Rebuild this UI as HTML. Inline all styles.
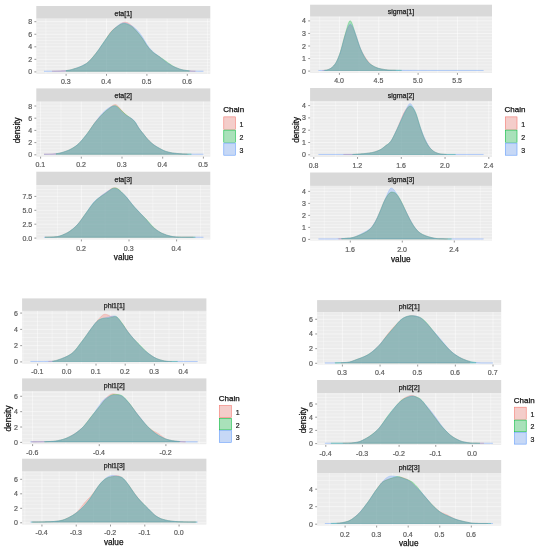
<!DOCTYPE html>
<html lang="en"><head><meta charset="utf-8"><title>Posterior densities by chain</title>
<style>html,body{margin:0;padding:0;background:#fff}body{width:538px;height:550px;overflow:hidden}svg{display:block;filter:blur(0.4px)}</style>
</head><body>
<svg width="538" height="550" viewBox="0 0 538 550" font-family="Liberation Sans, Arial, sans-serif">
<rect width="538" height="550" fill="#ffffff"/>
<rect x="36.3" y="6" width="174" height="12.7" fill="#D9D9D9"/>
<rect x="36.3" y="18.7" width="174" height="55.2" fill="#ECECEC"/>
<path d="M36.3 24.84H210.3M36.3 31.12H210.3M36.3 37.39H210.3M36.3 43.66H210.3M36.3 49.94H210.3M36.3 56.22H210.3M36.3 62.48H210.3M36.3 68.76H210.3" stroke="#fff" stroke-width="0.9" stroke-opacity="0.32" fill="none"/>
<path d="M45.9 18.7V73.9M86.3 18.7V73.9M126.7 18.7V73.9M167.1 18.7V73.9M207.5 18.7V73.9M36.3 65.62H210.3M36.3 53.08H210.3M36.3 40.53H210.3M36.3 27.98H210.3" stroke="#fff" stroke-width="0.36" fill="none"/>
<path d="M66.1 18.7V73.9M106.5 18.7V73.9M146.9 18.7V73.9M187.3 18.7V73.9M36.3 71.9H210.3M36.3 59.35H210.3M36.3 46.8H210.3M36.3 34.25H210.3M36.3 21.7H210.3" stroke="#fff" stroke-width="0.5" fill="none"/>
<path d="M52.02,71.3 L52.02,71.17 53.02,71.15 54.03,71.13 55.03,71.1 56.03,71.07 57.03,71.04 58.04,71.01 59.04,70.98 60.04,70.94 61.04,70.89 62.05,70.84 63.05,70.79 64.05,70.73 65.05,70.66 66.06,70.58 67.06,70.47 68.06,70.33 69.06,70.15 70.07,69.94 71.07,69.7 72.07,69.43 73.07,69.15 74.08,68.85 75.08,68.54 76.08,68.22 77.08,67.89 78.09,67.54 79.09,67.17 80.09,66.78 81.09,66.36 82.1,65.9 83.1,65.42 84.1,64.89 85.1,64.31 86.11,63.68 87.11,62.96 88.11,62.13 89.11,61.2 90.12,60.17 91.12,59.07 92.12,57.91 93.12,56.72 94.13,55.51 95.13,54.29 96.13,53.08 97.13,51.83 98.14,50.54 99.14,49.2 100.14,47.8 101.14,46.37 102.15,44.92 103.15,43.45 104.15,41.97 105.15,40.45 106.16,38.88 107.16,37.29 108.16,35.71 109.16,34.19 110.17,32.76 111.17,31.48 112.17,30.35 113.17,29.4 114.18,28.58 115.18,27.85 116.18,27.13 117.18,26.41 118.19,25.67 119.19,24.93 120.19,24.2 121.19,23.52 122.2,22.93 123.2,22.47 124.2,22.19 125.2,22.11 126.21,22.25 127.21,22.6 128.21,23.11 129.21,23.76 130.22,24.52 131.22,25.36 132.22,26.31 133.22,27.37 134.23,28.51 135.23,29.69 136.23,30.87 137.23,32.04 138.24,33.22 139.24,34.43 140.24,35.69 141.24,37 142.25,38.37 143.25,39.84 144.25,41.39 145.25,42.98 146.26,44.54 147.26,46 148.26,47.34 149.26,48.56 150.27,49.67 151.27,50.69 152.27,51.63 153.27,52.49 154.28,53.26 155.28,53.97 156.28,54.64 157.28,55.31 158.29,56 159.29,56.73 160.29,57.51 161.29,58.33 162.3,59.16 163.3,59.97 164.3,60.76 165.3,61.53 166.31,62.26 167.31,62.97 168.31,63.64 169.31,64.27 170.32,64.86 171.32,65.42 172.32,65.95 173.32,66.45 174.33,66.93 175.33,67.37 176.33,67.78 177.33,68.17 178.34,68.55 179.34,68.91 180.34,69.24 181.34,69.54 182.35,69.8 183.35,70.02 184.35,70.2 185.35,70.34 186.36,70.47 187.36,70.58 188.36,70.68 189.36,70.78 190.37,70.86 191.37,70.93 192.37,71 193.37,71.05 194.38,71.09 195.38,71.13 L195.38,71.3 Z" fill="#F8766D" fill-opacity="0.3" stroke="#F8766D" stroke-width="0.5" stroke-opacity="0.5" stroke-linejoin="round"/>
<path d="M66.06,71.3 L66.06,70.58 67.06,70.47 68.06,70.33 69.06,70.15 70.07,69.94 71.07,69.7 72.07,69.44 73.07,69.15 74.08,68.86 75.08,68.55 76.08,68.23 77.08,67.91 78.09,67.56 79.09,67.19 80.09,66.79 81.09,66.36 82.1,65.89 83.1,65.39 84.1,64.86 85.1,64.28 86.11,63.65 87.11,62.93 88.11,62.13 89.11,61.22 90.12,60.22 91.12,59.15 92.12,58.02 93.12,56.84 94.13,55.62 95.13,54.39 96.13,53.12 97.13,51.81 98.14,50.44 99.14,49.01 100.14,47.54 101.14,46.05 102.15,44.57 103.15,43.11 104.15,41.66 105.15,40.23 106.16,38.78 107.16,37.32 108.16,35.87 109.16,34.47 110.17,33.13 111.17,31.89 112.17,30.77 113.17,29.77 114.18,28.88 115.18,28.07 116.18,27.3 117.18,26.55 118.19,25.84 119.19,25.19 120.19,24.61 121.19,24.14 122.2,23.78 123.2,23.55 124.2,23.48 125.2,23.55 126.21,23.77 127.21,24.1 128.21,24.53 129.21,25.01 130.22,25.55 131.22,26.15 132.22,26.85 133.22,27.67 134.23,28.62 135.23,29.65 136.23,30.73 137.23,31.84 138.24,33.01 139.24,34.23 140.24,35.51 141.24,36.85 142.25,38.25 143.25,39.73 144.25,41.28 145.25,42.85 146.26,44.4 147.26,45.84 148.26,47.17 149.26,48.38 150.27,49.5 151.27,50.55 152.27,51.52 153.27,52.41 154.28,53.21 155.28,53.94 156.28,54.62 157.28,55.26 158.29,55.9 159.29,56.55 160.29,57.22 161.29,57.92 162.3,58.62 163.3,59.32 164.3,60.01 165.3,60.72 166.31,61.44 167.31,62.17 168.31,62.9 169.31,63.62 170.32,64.32 171.32,64.99 172.32,65.63 173.32,66.22 174.33,66.77 175.33,67.27 176.33,67.72 177.33,68.13 178.34,68.52 179.34,68.89 180.34,69.22 181.34,69.52 182.35,69.78 183.35,70 184.35,70.17 185.35,70.32 186.36,70.45 187.36,70.57 188.36,70.68 189.36,70.77 L189.36,71.3 Z" fill="#00BA38" fill-opacity="0.3" stroke="#00BA38" stroke-width="0.5" stroke-opacity="0.5" stroke-linejoin="round"/>
<path d="M44,71.3 L44,71.25 45,71.25 46.01,71.25 47.01,71.25 48.01,71.25 49.01,71.24 50.02,71.22 51.02,71.2 52.02,71.17 53.02,71.15 54.03,71.12 55.03,71.1 56.03,71.07 57.03,71.04 58.04,71.01 59.04,70.98 60.04,70.94 61.04,70.9 62.05,70.85 63.05,70.8 64.05,70.74 65.05,70.67 66.06,70.59 67.06,70.48 68.06,70.34 69.06,70.16 70.07,69.95 71.07,69.71 72.07,69.44 73.07,69.15 74.08,68.84 75.08,68.52 76.08,68.2 77.08,67.85 78.09,67.49 79.09,67.11 80.09,66.7 81.09,66.27 82.1,65.81 83.1,65.32 84.1,64.81 85.1,64.25 86.11,63.65 87.11,62.96 88.11,62.19 89.11,61.31 90.12,60.34 91.12,59.29 92.12,58.16 93.12,56.98 94.13,55.75 95.13,54.49 96.13,53.2 97.13,51.85 98.14,50.45 99.14,48.99 100.14,47.51 101.14,46.02 102.15,44.55 103.15,43.13 104.15,41.74 105.15,40.36 106.16,38.98 107.16,37.58 108.16,36.18 109.16,34.81 110.17,33.47 111.17,32.2 112.17,31.01 113.17,29.93 114.18,28.93 115.18,27.99 116.18,27.08 117.18,26.21 118.19,25.39 119.19,24.64 120.19,24 121.19,23.48 122.2,23.11 123.2,22.9 124.2,22.86 125.2,22.97 126.21,23.23 127.21,23.59 128.21,24.02 129.21,24.48 130.22,24.97 131.22,25.48 132.22,26.07 133.22,26.76 134.23,27.55 135.23,28.42 136.23,29.34 137.23,30.32 138.24,31.39 139.24,32.55 140.24,33.81 141.24,35.18 142.25,36.65 143.25,38.23 144.25,39.9 145.25,41.62 146.26,43.31 147.26,44.89 148.26,46.34 149.26,47.66 150.27,48.87 151.27,49.98 152.27,51 153.27,51.94 154.28,52.8 155.28,53.59 156.28,54.33 157.28,55.06 158.29,55.82 159.29,56.6 160.29,57.43 161.29,58.28 162.3,59.12 163.3,59.95 164.3,60.76 165.3,61.53 166.31,62.27 167.31,62.98 168.31,63.66 169.31,64.3 170.32,64.9 171.32,65.46 172.32,65.99 173.32,66.5 174.33,66.97 175.33,67.4 176.33,67.81 177.33,68.19 178.34,68.56 179.34,68.92 180.34,69.24 181.34,69.54 182.35,69.8 183.35,70.01 184.35,70.19 185.35,70.34 186.36,70.47 187.36,70.58 188.36,70.68 189.36,70.78 190.37,70.86 191.37,70.93 192.37,71 193.37,71.05 194.38,71.09 195.38,71.13 196.38,71.16 197.38,71.2 198.39,71.22 199.39,71.25 200.39,71.25 201.39,71.25 202.4,71.25 203.4,71.25 L203.4,71.3 Z" fill="#619CFF" fill-opacity="0.3" stroke="#619CFF" stroke-width="0.5" stroke-opacity="0.5" stroke-linejoin="round"/>
<text x="123.3" y="15.55" font-size="7" fill="#222" stroke="#222" stroke-width="0.25" text-anchor="middle">eta[1]</text>
<path d="M34.4 71.9H36.3M34.4 59.35H36.3M34.4 46.8H36.3M34.4 34.25H36.3M34.4 21.7H36.3M66.1 73.9V75.8M106.5 73.9V75.8M146.9 73.9V75.8M187.3 73.9V75.8" stroke="#444" stroke-width="0.55" fill="none"/>
<text x="32.2" y="74.4" font-size="7" fill="#5c5c5c" stroke="#5c5c5c" stroke-width="0.2" text-anchor="end">0</text><text x="32.2" y="61.85" font-size="7" fill="#5c5c5c" stroke="#5c5c5c" stroke-width="0.2" text-anchor="end">2</text><text x="32.2" y="49.3" font-size="7" fill="#5c5c5c" stroke="#5c5c5c" stroke-width="0.2" text-anchor="end">4</text><text x="32.2" y="36.75" font-size="7" fill="#5c5c5c" stroke="#5c5c5c" stroke-width="0.2" text-anchor="end">6</text><text x="32.2" y="24.2" font-size="7" fill="#5c5c5c" stroke="#5c5c5c" stroke-width="0.2" text-anchor="end">8</text><text x="65.8" y="84" font-size="7" fill="#5c5c5c" stroke="#5c5c5c" stroke-width="0.2" text-anchor="middle">0.3</text><text x="106.2" y="84" font-size="7" fill="#5c5c5c" stroke="#5c5c5c" stroke-width="0.2" text-anchor="middle">0.4</text><text x="146.6" y="84" font-size="7" fill="#5c5c5c" stroke="#5c5c5c" stroke-width="0.2" text-anchor="middle">0.5</text><text x="187" y="84" font-size="7" fill="#5c5c5c" stroke="#5c5c5c" stroke-width="0.2" text-anchor="middle">0.6</text>
<rect x="36.3" y="88.4" width="174" height="13.3" fill="#D9D9D9"/>
<rect x="36.3" y="101.7" width="174" height="55" fill="#ECECEC"/>
<path d="M36.3 102.95H210.3M36.3 109.05H210.3M36.3 115.15H210.3M36.3 121.25H210.3M36.3 127.35H210.3M36.3 133.45H210.3M36.3 139.55H210.3M36.3 145.65H210.3M36.3 151.75H210.3" stroke="#fff" stroke-width="0.9" stroke-opacity="0.32" fill="none"/>
<path d="M60.95 101.7V156.7M101.65 101.7V156.7M142.35 101.7V156.7M183.05 101.7V156.7M36.3 148.7H210.3M36.3 136.5H210.3M36.3 124.3H210.3M36.3 112.1H210.3" stroke="#fff" stroke-width="0.36" fill="none"/>
<path d="M40.6 101.7V156.7M81.3 101.7V156.7M122 101.7V156.7M162.7 101.7V156.7M203.4 101.7V156.7M36.3 154.8H210.3M36.3 142.6H210.3M36.3 130.4H210.3M36.3 118.2H210.3M36.3 106H210.3" stroke="#fff" stroke-width="0.5" fill="none"/>
<path d="M44,154.3 L44,154.25 45,154.25 46.01,154.25 47.01,154.25 48.01,154.22 49.01,154.17 50.02,154.13 51.02,154.07 52.02,154.01 53.02,153.94 54.03,153.87 55.03,153.78 56.03,153.69 57.03,153.57 58.04,153.42 59.04,153.24 60.04,153.01 61.04,152.76 62.05,152.48 63.05,152.18 64.05,151.86 65.05,151.53 66.06,151.18 67.06,150.81 68.06,150.41 69.06,149.97 70.07,149.49 71.07,148.98 72.07,148.43 73.07,147.85 74.08,147.24 75.08,146.58 76.08,145.88 77.08,145.12 78.09,144.27 79.09,143.34 80.09,142.32 81.09,141.24 82.1,140.1 83.1,138.92 84.1,137.7 85.1,136.46 86.11,135.19 87.11,133.87 88.11,132.49 89.11,131.04 90.12,129.54 91.12,128.03 92.12,126.52 93.12,125.04 94.13,123.62 95.13,122.28 96.13,121.01 97.13,119.82 98.14,118.66 99.14,117.54 100.14,116.44 101.14,115.39 102.15,114.38 103.15,113.42 104.15,112.5 105.15,111.63 106.16,110.79 107.16,109.95 108.16,109.08 109.16,108.2 110.17,107.31 111.17,106.47 112.17,105.72 113.17,105.1 114.18,104.68 115.18,104.54 116.18,104.77 117.18,105.4 118.19,106.33 119.19,107.44 120.19,108.59 121.19,109.73 122.2,110.85 123.2,111.96 124.2,113.04 125.2,114.05 126.21,114.96 127.21,115.77 128.21,116.5 129.21,117.18 130.22,117.87 131.22,118.59 132.22,119.37 133.22,120.23 134.23,121.24 135.23,122.49 136.23,124.03 137.23,125.72 138.24,127.35 139.24,128.81 140.24,130.12 141.24,131.35 142.25,132.56 143.25,133.77 144.25,135.01 145.25,136.24 146.26,137.46 147.26,138.63 148.26,139.73 149.26,140.76 150.27,141.74 151.27,142.67 152.27,143.55 153.27,144.36 154.28,145.12 155.28,145.82 156.28,146.47 157.28,147.08 158.29,147.67 159.29,148.24 160.29,148.8 161.29,149.35 162.3,149.89 163.3,150.38 164.3,150.83 165.3,151.21 166.31,151.54 167.31,151.82 168.31,152.08 169.31,152.31 170.32,152.52 171.32,152.71 172.32,152.88 173.32,153.04 174.33,153.18 175.33,153.31 176.33,153.42 177.33,153.52 178.34,153.62 179.34,153.7 180.34,153.78 181.34,153.85 182.35,153.91 183.35,153.96 184.35,154 185.35,154.03 186.36,154.06 187.36,154.08 L187.36,154.3 Z" fill="#F8766D" fill-opacity="0.3" stroke="#F8766D" stroke-width="0.5" stroke-opacity="0.5" stroke-linejoin="round"/>
<path d="M56.03,154.3 L56.03,153.69 57.03,153.58 58.04,153.43 59.04,153.25 60.04,153.03 61.04,152.78 62.05,152.51 63.05,152.21 64.05,151.9 65.05,151.57 66.06,151.22 67.06,150.85 68.06,150.45 69.06,150 70.07,149.52 71.07,149 72.07,148.44 73.07,147.84 74.08,147.21 75.08,146.55 76.08,145.83 77.08,145.05 78.09,144.19 79.09,143.24 80.09,142.21 81.09,141.11 82.1,139.95 83.1,138.75 84.1,137.52 85.1,136.26 86.11,134.99 87.11,133.68 88.11,132.31 89.11,130.9 90.12,129.45 91.12,127.99 92.12,126.56 93.12,125.15 94.13,123.81 95.13,122.53 96.13,121.33 97.13,120.16 98.14,119.02 99.14,117.89 100.14,116.77 101.14,115.66 102.15,114.59 103.15,113.56 104.15,112.59 105.15,111.68 106.16,110.83 107.16,110.02 108.16,109.23 109.16,108.45 110.17,107.71 111.17,107.04 112.17,106.46 113.17,106.01 114.18,105.73 115.18,105.68 116.18,105.94 117.18,106.53 118.19,107.37 119.19,108.35 120.19,109.34 121.19,110.29 122.2,111.24 123.2,112.18 124.2,113.12 125.2,114.01 126.21,114.84 127.21,115.59 128.21,116.28 129.21,116.95 130.22,117.63 131.22,118.36 132.22,119.14 133.22,120.02 134.23,121.04 135.23,122.3 136.23,123.86 137.23,125.57 138.24,127.22 139.24,128.7 140.24,130.04 141.24,131.3 142.25,132.55 143.25,133.81 144.25,135.08 145.25,136.36 146.26,137.61 147.26,138.8 148.26,139.91 149.26,140.95 150.27,141.93 151.27,142.84 152.27,143.69 153.27,144.48 154.28,145.21 155.28,145.88 156.28,146.5 157.28,147.09 158.29,147.65 159.29,148.2 160.29,148.76 161.29,149.3 162.3,149.84 163.3,150.34 164.3,150.79 165.3,151.18 166.31,151.51 167.31,151.8 168.31,152.06 169.31,152.3 170.32,152.51 171.32,152.7 172.32,152.88 173.32,153.04 174.33,153.18 175.33,153.31 176.33,153.42 177.33,153.52 178.34,153.62 179.34,153.7 180.34,153.78 181.34,153.85 182.35,153.91 183.35,153.96 184.35,154 185.35,154.03 186.36,154.06 187.36,154.08 188.36,154.11 189.36,154.13 190.37,154.15 191.37,154.17 L191.37,154.3 Z" fill="#00BA38" fill-opacity="0.3" stroke="#00BA38" stroke-width="0.5" stroke-opacity="0.5" stroke-linejoin="round"/>
<path d="M44,154.3 L44,154.25 45,154.25 46.01,154.25 47.01,154.25 48.01,154.22 49.01,154.18 50.02,154.13 51.02,154.07 52.02,154.01 53.02,153.94 54.03,153.86 55.03,153.78 56.03,153.68 57.03,153.57 58.04,153.41 59.04,153.23 60.04,153 61.04,152.75 62.05,152.47 63.05,152.17 64.05,151.86 65.05,151.53 66.06,151.19 67.06,150.83 68.06,150.44 69.06,150 70.07,149.53 71.07,149.02 72.07,148.47 73.07,147.88 74.08,147.26 75.08,146.59 76.08,145.86 77.08,145.07 78.09,144.2 79.09,143.24 80.09,142.2 81.09,141.09 82.1,139.94 83.1,138.76 84.1,137.56 85.1,136.34 86.11,135.11 87.11,133.85 88.11,132.53 89.11,131.14 90.12,129.71 91.12,128.24 92.12,126.76 93.12,125.28 94.13,123.82 95.13,122.41 96.13,121.04 97.13,119.71 98.14,118.4 99.14,117.11 100.14,115.85 101.14,114.65 102.15,113.5 103.15,112.43 104.15,111.45 105.15,110.57 106.16,109.77 107.16,109.03 108.16,108.34 109.16,107.69 110.17,107.1 111.17,106.61 112.17,106.23 113.17,105.99 114.18,105.93 115.18,106.11 116.18,106.58 117.18,107.37 118.19,108.37 119.19,109.47 120.19,110.54 121.19,111.53 122.2,112.47 123.2,113.37 124.2,114.21 125.2,114.98 126.21,115.65 127.21,116.22 128.21,116.73 129.21,117.21 130.22,117.71 131.22,118.27 132.22,118.93 133.22,119.7 134.23,120.66 135.23,121.91 136.23,123.48 137.23,125.24 138.24,126.95 139.24,128.5 140.24,129.9 141.24,131.22 142.25,132.52 143.25,133.81 144.25,135.1 145.25,136.37 146.26,137.61 147.26,138.79 148.26,139.88 149.26,140.9 150.27,141.86 151.27,142.76 152.27,143.61 153.27,144.39 154.28,145.12 155.28,145.8 156.28,146.44 157.28,147.04 158.29,147.62 159.29,148.19 160.29,148.76 161.29,149.32 162.3,149.86 163.3,150.37 164.3,150.82 165.3,151.21 166.31,151.54 167.31,151.84 168.31,152.1 169.31,152.33 170.32,152.53 171.32,152.72 172.32,152.9 173.32,153.05 174.33,153.19 175.33,153.32 176.33,153.43 177.33,153.52 178.34,153.62 179.34,153.7 180.34,153.78 181.34,153.85 182.35,153.91 183.35,153.95 184.35,153.99 185.35,154.02 186.36,154.05 187.36,154.08 188.36,154.1 189.36,154.13 190.37,154.15 191.37,154.17 192.37,154.19 193.37,154.21 194.38,154.23 195.38,154.24 196.38,154.25 197.38,154.25 198.39,154.25 199.39,154.25 200.39,154.25 201.39,154.25 202.4,154.25 203.4,154.25 L203.4,154.3 Z" fill="#619CFF" fill-opacity="0.3" stroke="#619CFF" stroke-width="0.5" stroke-opacity="0.5" stroke-linejoin="round"/>
<text x="123.3" y="98.25" font-size="7" fill="#222" stroke="#222" stroke-width="0.25" text-anchor="middle">eta[2]</text>
<path d="M34.4 154.8H36.3M34.4 142.6H36.3M34.4 130.4H36.3M34.4 118.2H36.3M34.4 106H36.3M40.6 156.7V158.6M81.3 156.7V158.6M122 156.7V158.6M162.7 156.7V158.6M203.4 156.7V158.6" stroke="#444" stroke-width="0.55" fill="none"/>
<text x="32.2" y="157.3" font-size="7" fill="#5c5c5c" stroke="#5c5c5c" stroke-width="0.2" text-anchor="end">0</text><text x="32.2" y="145.1" font-size="7" fill="#5c5c5c" stroke="#5c5c5c" stroke-width="0.2" text-anchor="end">2</text><text x="32.2" y="132.9" font-size="7" fill="#5c5c5c" stroke="#5c5c5c" stroke-width="0.2" text-anchor="end">4</text><text x="32.2" y="120.7" font-size="7" fill="#5c5c5c" stroke="#5c5c5c" stroke-width="0.2" text-anchor="end">6</text><text x="32.2" y="108.5" font-size="7" fill="#5c5c5c" stroke="#5c5c5c" stroke-width="0.2" text-anchor="end">8</text><text x="40.3" y="167.3" font-size="7" fill="#5c5c5c" stroke="#5c5c5c" stroke-width="0.2" text-anchor="middle">0.1</text><text x="81" y="167.3" font-size="7" fill="#5c5c5c" stroke="#5c5c5c" stroke-width="0.2" text-anchor="middle">0.2</text><text x="121.7" y="167.3" font-size="7" fill="#5c5c5c" stroke="#5c5c5c" stroke-width="0.2" text-anchor="middle">0.3</text><text x="162.4" y="167.3" font-size="7" fill="#5c5c5c" stroke="#5c5c5c" stroke-width="0.2" text-anchor="middle">0.4</text><text x="203.1" y="167.3" font-size="7" fill="#5c5c5c" stroke="#5c5c5c" stroke-width="0.2" text-anchor="middle">0.5</text>
<rect x="36.3" y="171.7" width="174" height="13.4" fill="#D9D9D9"/>
<rect x="36.3" y="185.1" width="174" height="54.4" fill="#ECECEC"/>
<path d="M36.3 185.97H210.3M36.3 192.93H210.3M36.3 199.88H210.3M36.3 206.82H210.3M36.3 213.78H210.3M36.3 220.72H210.3M36.3 227.68H210.3M36.3 234.62H210.3" stroke="#fff" stroke-width="0.9" stroke-opacity="0.32" fill="none"/>
<path d="M57.6 185.1V239.5M105.2 185.1V239.5M152.8 185.1V239.5M200.4 185.1V239.5M36.3 231.15H210.3M36.3 217.25H210.3M36.3 203.35H210.3M36.3 189.45H210.3" stroke="#fff" stroke-width="0.36" fill="none"/>
<path d="M81.4 185.1V239.5M129 185.1V239.5M176.6 185.1V239.5M36.3 238.1H210.3M36.3 224.2H210.3M36.3 210.3H210.3M36.3 196.4H210.3" stroke="#fff" stroke-width="0.5" fill="none"/>
<path d="M45,237.3 L45,237.25 46.01,237.25 47.01,237.25 48.01,237.23 49.01,237.2 50.02,237.16 51.02,237.12 52.02,237.06 53.02,237.01 54.03,236.94 55.03,236.87 56.03,236.78 57.03,236.65 58.04,236.47 59.04,236.23 60.04,235.94 61.04,235.59 62.05,235.21 63.05,234.8 64.05,234.36 65.05,233.9 66.06,233.42 67.06,232.91 68.06,232.35 69.06,231.73 70.07,231.05 71.07,230.32 72.07,229.54 73.07,228.72 74.08,227.85 75.08,226.94 76.08,225.98 77.08,224.95 78.09,223.83 79.09,222.61 80.09,221.32 81.09,219.97 82.1,218.59 83.1,217.19 84.1,215.81 85.1,214.44 86.11,213.1 87.11,211.77 88.11,210.42 89.11,209.06 90.12,207.69 91.12,206.34 92.12,205.02 93.12,203.76 94.13,202.56 95.13,201.45 96.13,200.43 97.13,199.49 98.14,198.6 99.14,197.75 100.14,196.93 101.14,196.13 102.15,195.36 103.15,194.61 104.15,193.88 105.15,193.16 106.16,192.45 107.16,191.72 108.16,190.97 109.16,190.22 110.17,189.5 111.17,188.85 112.17,188.32 113.17,187.95 114.18,187.78 115.18,187.83 116.18,188.11 117.18,188.59 118.19,189.24 119.19,190.03 120.19,190.93 121.19,191.89 122.2,192.88 123.2,193.89 124.2,194.9 125.2,195.95 126.21,197.05 127.21,198.23 128.21,199.46 129.21,200.72 130.22,202 131.22,203.27 132.22,204.52 133.22,205.73 134.23,206.9 135.23,208.02 136.23,209.12 137.23,210.2 138.24,211.26 139.24,212.31 140.24,213.35 141.24,214.39 142.25,215.43 143.25,216.48 144.25,217.55 145.25,218.65 146.26,219.78 147.26,220.95 148.26,222.13 149.26,223.3 150.27,224.44 151.27,225.52 152.27,226.54 153.27,227.47 154.28,228.32 155.28,229.09 156.28,229.82 157.28,230.51 158.29,231.16 159.29,231.78 160.29,232.36 161.29,232.89 162.3,233.37 163.3,233.81 164.3,234.21 165.3,234.58 166.31,234.93 167.31,235.26 168.31,235.57 169.31,235.85 170.32,236.11 171.32,236.33 172.32,236.52 173.32,236.67 174.33,236.79 175.33,236.88 176.33,236.96 177.33,237.03 178.34,237.1 179.34,237.15 180.34,237.2 181.34,237.24 182.35,237.25 183.35,237.25 184.35,237.25 185.35,237.25 186.36,237.25 187.36,237.25 188.36,237.25 189.36,237.25 190.37,237.25 191.37,237.25 192.37,237.25 193.37,237.25 L193.37,237.3 Z" fill="#F8766D" fill-opacity="0.3" stroke="#F8766D" stroke-width="0.5" stroke-opacity="0.5" stroke-linejoin="round"/>
<path d="M45,237.3 L45,237.25 46.01,237.25 47.01,237.25 48.01,237.23 49.01,237.2 50.02,237.16 51.02,237.12 52.02,237.06 53.02,237.01 54.03,236.94 55.03,236.87 56.03,236.78 57.03,236.65 58.04,236.47 59.04,236.23 60.04,235.93 61.04,235.59 62.05,235.2 63.05,234.79 64.05,234.35 65.05,233.89 66.06,233.42 67.06,232.91 68.06,232.35 69.06,231.74 70.07,231.08 71.07,230.36 72.07,229.6 73.07,228.79 74.08,227.94 75.08,227.05 76.08,226.1 77.08,225.07 78.09,223.95 79.09,222.72 80.09,221.41 81.09,220.03 82.1,218.61 83.1,217.17 84.1,215.72 85.1,214.3 86.11,212.9 87.11,211.5 88.11,210.1 89.11,208.69 90.12,207.29 91.12,205.91 92.12,204.59 93.12,203.34 94.13,202.18 95.13,201.13 96.13,200.18 97.13,199.33 98.14,198.53 99.14,197.78 100.14,197.07 101.14,196.37 102.15,195.69 103.15,195.02 104.15,194.36 105.15,193.68 106.16,192.99 107.16,192.27 108.16,191.5 109.16,190.71 110.17,189.94 111.17,189.23 112.17,188.62 113.17,188.17 114.18,187.91 115.18,187.88 116.18,188.09 117.18,188.5 118.19,189.11 119.19,189.87 120.19,190.74 121.19,191.7 122.2,192.7 123.2,193.71 124.2,194.74 125.2,195.8 126.21,196.93 127.21,198.12 128.21,199.36 129.21,200.63 130.22,201.91 131.22,203.18 132.22,204.42 133.22,205.62 134.23,206.77 135.23,207.88 136.23,208.97 137.23,210.03 138.24,211.08 139.24,212.13 140.24,213.16 141.24,214.18 142.25,215.19 143.25,216.2 144.25,217.2 145.25,218.23 146.26,219.27 147.26,220.36 148.26,221.47 149.26,222.6 150.27,223.75 151.27,224.89 152.27,225.99 153.27,227.03 154.28,227.99 155.28,228.87 156.28,229.69 157.28,230.45 158.29,231.14 159.29,231.78 160.29,232.37 161.29,232.9 162.3,233.38 163.3,233.81 164.3,234.2 165.3,234.57 166.31,234.91 167.31,235.24 168.31,235.55 169.31,235.83 170.32,236.09 171.32,236.32 172.32,236.51 173.32,236.66 174.33,236.78 175.33,236.88 176.33,236.96 177.33,237.03 178.34,237.09 179.34,237.15 180.34,237.2 181.34,237.24 182.35,237.25 183.35,237.25 184.35,237.25 185.35,237.25 186.36,237.25 187.36,237.25 188.36,237.25 189.36,237.25 190.37,237.25 191.37,237.25 192.37,237.25 193.37,237.25 194.38,237.25 195.38,237.25 L195.38,237.3 Z" fill="#00BA38" fill-opacity="0.3" stroke="#00BA38" stroke-width="0.5" stroke-opacity="0.5" stroke-linejoin="round"/>
<path d="M44,237.3 L44,237.25 45,237.25 46.01,237.25 47.01,237.25 48.01,237.23 49.01,237.2 50.02,237.16 51.02,237.12 52.02,237.06 53.02,237.01 54.03,236.94 55.03,236.87 56.03,236.78 57.03,236.65 58.04,236.47 59.04,236.23 60.04,235.93 61.04,235.59 62.05,235.21 63.05,234.8 64.05,234.37 65.05,233.91 66.06,233.44 67.06,232.92 68.06,232.36 69.06,231.73 70.07,231.04 71.07,230.3 72.07,229.51 73.07,228.68 74.08,227.8 75.08,226.9 76.08,225.95 77.08,224.94 78.09,223.84 79.09,222.65 80.09,221.39 81.09,220.06 82.1,218.68 83.1,217.27 84.1,215.84 85.1,214.4 86.11,212.96 87.11,211.51 88.11,210.03 89.11,208.54 90.12,207.06 91.12,205.63 92.12,204.26 93.12,202.99 94.13,201.83 95.13,200.78 96.13,199.84 97.13,198.99 98.14,198.18 99.14,197.4 100.14,196.63 101.14,195.87 102.15,195.11 103.15,194.37 104.15,193.65 105.15,192.95 106.16,192.28 107.16,191.62 108.16,190.98 109.16,190.35 110.17,189.79 111.17,189.3 112.17,188.92 113.17,188.68 114.18,188.59 115.18,188.68 116.18,188.93 117.18,189.33 118.19,189.85 119.19,190.48 120.19,191.2 121.19,191.99 122.2,192.82 123.2,193.69 124.2,194.6 125.2,195.58 126.21,196.66 127.21,197.83 128.21,199.08 129.21,200.38 130.22,201.69 131.22,203 132.22,204.27 133.22,205.49 134.23,206.65 135.23,207.77 136.23,208.86 137.23,209.93 138.24,211 139.24,212.07 140.24,213.15 141.24,214.24 142.25,215.35 143.25,216.46 144.25,217.59 145.25,218.75 146.26,219.93 147.26,221.13 148.26,222.32 149.26,223.49 150.27,224.61 151.27,225.68 152.27,226.67 153.27,227.57 154.28,228.39 155.28,229.15 156.28,229.86 157.28,230.54 158.29,231.19 159.29,231.8 160.29,232.38 161.29,232.91 162.3,233.4 163.3,233.83 164.3,234.23 165.3,234.59 166.31,234.93 167.31,235.25 168.31,235.56 169.31,235.84 170.32,236.1 171.32,236.32 172.32,236.51 173.32,236.66 174.33,236.78 175.33,236.87 176.33,236.95 177.33,237.03 178.34,237.09 179.34,237.15 180.34,237.2 181.34,237.24 182.35,237.25 183.35,237.25 184.35,237.25 185.35,237.25 186.36,237.25 187.36,237.25 188.36,237.25 189.36,237.25 190.37,237.25 191.37,237.25 192.37,237.25 193.37,237.25 194.38,237.25 195.38,237.25 196.38,237.25 197.38,237.25 198.39,237.25 199.39,237.25 200.39,237.25 201.39,237.25 202.4,237.25 203.4,237.25 L203.4,237.3 Z" fill="#619CFF" fill-opacity="0.3" stroke="#619CFF" stroke-width="0.5" stroke-opacity="0.5" stroke-linejoin="round"/>
<text x="123.3" y="181.6" font-size="7" fill="#222" stroke="#222" stroke-width="0.25" text-anchor="middle">eta[3]</text>
<path d="M34.4 238.1H36.3M34.4 224.2H36.3M34.4 210.3H36.3M34.4 196.4H36.3M81.4 239.5V241.4M129 239.5V241.4M176.6 239.5V241.4" stroke="#444" stroke-width="0.55" fill="none"/>
<text x="32.2" y="240.6" font-size="7" fill="#5c5c5c" stroke="#5c5c5c" stroke-width="0.2" text-anchor="end">0.0</text><text x="32.2" y="226.7" font-size="7" fill="#5c5c5c" stroke="#5c5c5c" stroke-width="0.2" text-anchor="end">2.5</text><text x="32.2" y="212.8" font-size="7" fill="#5c5c5c" stroke="#5c5c5c" stroke-width="0.2" text-anchor="end">5.0</text><text x="32.2" y="198.9" font-size="7" fill="#5c5c5c" stroke="#5c5c5c" stroke-width="0.2" text-anchor="end">7.5</text><text x="81.1" y="250.6" font-size="7" fill="#5c5c5c" stroke="#5c5c5c" stroke-width="0.2" text-anchor="middle">0.2</text><text x="128.7" y="250.6" font-size="7" fill="#5c5c5c" stroke="#5c5c5c" stroke-width="0.2" text-anchor="middle">0.3</text><text x="176.3" y="250.6" font-size="7" fill="#5c5c5c" stroke="#5c5c5c" stroke-width="0.2" text-anchor="middle">0.4</text>
<text transform="translate(20.1 130.4) rotate(-90)" font-size="8.2" fill="#111" stroke="#111" stroke-width="0.25" text-anchor="middle">density</text>
<text x="123.6" y="260.4" font-size="8.2" fill="#111" stroke="#111" stroke-width="0.25" text-anchor="middle">value</text>
<text x="223.2" y="112.1" font-size="8" fill="#111" stroke="#111" stroke-width="0.25">Chain</text>
<rect x="223.4" y="116.5" width="12.3" height="13.2" fill="#F2F2F2"/>
<rect x="223.8" y="116.9" width="11.5" height="12.4" fill="#F8766D" fill-opacity="0.3" stroke="#F8766D" stroke-width="0.55"/>
<text x="241.5" y="126.5" font-size="7" fill="#1a1a1a" stroke="#1a1a1a" stroke-width="0.2" text-anchor="middle">1</text>
<rect x="223.4" y="129.7" width="12.3" height="13" fill="#F2F2F2"/>
<rect x="223.8" y="130.1" width="11.5" height="12.2" fill="#00BA38" fill-opacity="0.3" stroke="#00BA38" stroke-width="0.55"/>
<text x="241.5" y="139.6" font-size="7" fill="#1a1a1a" stroke="#1a1a1a" stroke-width="0.2" text-anchor="middle">2</text>
<rect x="223.4" y="142.7" width="12.3" height="12.9" fill="#F2F2F2"/>
<rect x="223.8" y="143.1" width="11.5" height="12.1" fill="#619CFF" fill-opacity="0.3" stroke="#619CFF" stroke-width="0.55"/>
<text x="241.5" y="152.55" font-size="7" fill="#1a1a1a" stroke="#1a1a1a" stroke-width="0.2" text-anchor="middle">3</text>
<rect x="310.1" y="4.7" width="181.9" height="12" fill="#D9D9D9"/>
<rect x="310.1" y="16.7" width="181.9" height="56.2" fill="#ECECEC"/>
<path d="M310.1 17.76H492M310.1 24.04H492M310.1 30.31H492M310.1 36.59H492M310.1 42.86H492M310.1 49.14H492M310.1 55.41H492M310.1 61.68H492M310.1 67.96H492" stroke="#fff" stroke-width="0.9" stroke-opacity="0.32" fill="none"/>
<path d="M319.72 16.7V72.9M359.07 16.7V72.9M398.42 16.7V72.9M437.77 16.7V72.9M477.12 16.7V72.9M310.1 64.82H492M310.1 52.27H492M310.1 39.72H492M310.1 27.17H492" stroke="#fff" stroke-width="0.36" fill="none"/>
<path d="M339.4 16.7V72.9M378.75 16.7V72.9M418.1 16.7V72.9M457.45 16.7V72.9M310.1 71.1H492M310.1 58.55H492M310.1 46H492M310.1 33.45H492M310.1 20.9H492" stroke="#fff" stroke-width="0.5" fill="none"/>
<path d="M322.5,70.5 L322.5,70.4 323.5,70.36 324.5,70.29 325.5,70.2 326.5,70.05 327.5,69.81 328.5,69.47 329.5,69.03 330.5,68.49 331.5,67.82 332.5,66.99 333.5,66.01 334.5,64.83 335.5,63.43 336.5,61.71 337.5,59.66 338.5,57.3 339.5,54.65 340.5,51.63 341.5,48.2 342.5,44.44 343.5,40.64 344.5,37.08 345.5,33.86 346.5,30.93 347.5,28.31 348.5,26.22 349.5,24.95 350.5,24.69 351.5,25.47 352.5,27.08 353.5,29.23 354.5,31.67 355.5,34.3 356.5,37.13 357.5,40.15 358.5,43.2 359.5,46.07 360.5,48.61 361.5,50.85 362.5,52.82 363.5,54.59 364.5,56.19 365.5,57.68 366.5,59.12 367.5,60.52 368.5,61.85 369.5,63.02 370.5,64.01 371.5,64.84 372.5,65.54 373.5,66.16 374.5,66.7 375.5,67.18 376.5,67.6 377.5,67.98 378.5,68.3 379.5,68.58 380.5,68.81 381.5,69.02 382.5,69.21 383.5,69.38 384.5,69.54 385.5,69.69 386.5,69.81 387.5,69.91 388.5,70 389.5,70.06 390.5,70.1 391.5,70.12 392.5,70.15 393.5,70.17 394.5,70.19 395.5,70.2 L395.5,70.5 Z" fill="#F8766D" fill-opacity="0.3" stroke="#F8766D" stroke-width="0.5" stroke-opacity="0.5" stroke-linejoin="round"/>
<path d="M324.5,70.5 L324.5,70.29 325.5,70.2 326.5,70.06 327.5,69.82 328.5,69.47 329.5,69.03 330.5,68.49 331.5,67.81 332.5,66.98 333.5,65.99 334.5,64.8 335.5,63.38 336.5,61.64 337.5,59.57 338.5,57.19 339.5,54.52 340.5,51.49 341.5,48.03 342.5,44.24 343.5,40.37 344.5,36.62 345.5,33.02 346.5,29.43 347.5,25.94 348.5,22.96 349.5,21.08 350.5,20.77 351.5,22.08 352.5,24.61 353.5,27.75 354.5,30.99 355.5,34.13 356.5,37.21 357.5,40.31 358.5,43.36 359.5,46.22 360.5,48.8 361.5,51.12 362.5,53.24 363.5,55.18 364.5,56.94 365.5,58.53 366.5,59.97 367.5,61.29 368.5,62.45 369.5,63.44 370.5,64.27 371.5,64.97 372.5,65.6 373.5,66.17 374.5,66.7 375.5,67.18 376.5,67.61 377.5,67.99 378.5,68.31 379.5,68.59 380.5,68.83 381.5,69.03 382.5,69.22 383.5,69.39 384.5,69.55 385.5,69.69 386.5,69.82 387.5,69.92 388.5,70 389.5,70.06 390.5,70.1 391.5,70.12 392.5,70.15 393.5,70.17 394.5,70.19 395.5,70.2 396.5,70.22 397.5,70.24 398.5,70.25 399.5,70.26 400.5,70.28 401.5,70.29 L401.5,70.5 Z" fill="#00BA38" fill-opacity="0.3" stroke="#00BA38" stroke-width="0.5" stroke-opacity="0.5" stroke-linejoin="round"/>
<path d="M318.5,70.5 L318.5,70.45 319.5,70.45 320.5,70.45 321.5,70.44 322.5,70.4 323.5,70.36 324.5,70.29 325.5,70.2 326.5,70.05 327.5,69.81 328.5,69.47 329.5,69.03 330.5,68.48 331.5,67.8 332.5,66.97 333.5,65.98 334.5,64.8 335.5,63.4 336.5,61.69 337.5,59.66 338.5,57.34 339.5,54.75 340.5,51.8 341.5,48.45 342.5,44.79 343.5,41.08 344.5,37.57 345.5,34.34 346.5,31.3 347.5,28.47 348.5,26.1 349.5,24.55 350.5,24.09 351.5,24.79 352.5,26.44 353.5,28.68 354.5,31.21 355.5,33.9 356.5,36.77 357.5,39.82 358.5,42.91 359.5,45.85 360.5,48.51 361.5,50.91 362.5,53.1 363.5,55.1 364.5,56.91 365.5,58.53 366.5,60 367.5,61.32 368.5,62.5 369.5,63.49 370.5,64.32 371.5,65.02 372.5,65.65 373.5,66.22 374.5,66.74 375.5,67.22 376.5,67.64 377.5,68.01 378.5,68.33 379.5,68.61 380.5,68.84 381.5,69.04 382.5,69.22 383.5,69.39 384.5,69.55 385.5,69.69 386.5,69.81 387.5,69.91 388.5,70 389.5,70.05 390.5,70.09 391.5,70.12 392.5,70.14 393.5,70.17 394.5,70.18 395.5,70.2 396.5,70.22 397.5,70.24 398.5,70.25 399.5,70.27 400.5,70.28 401.5,70.29 402.5,70.3 403.5,70.31 404.5,70.32 405.5,70.33 406.5,70.34 407.5,70.35 408.5,70.35 409.5,70.36 410.5,70.37 411.5,70.37 412.5,70.38 413.5,70.38 414.5,70.39 415.5,70.39 416.5,70.4 417.5,70.4 418.5,70.4 419.5,70.4 420.5,70.41 421.5,70.41 422.5,70.41 423.5,70.42 424.5,70.42 425.5,70.42 426.5,70.42 427.5,70.43 428.5,70.43 429.5,70.43 430.5,70.43 431.5,70.44 432.5,70.44 433.5,70.44 434.5,70.44 435.5,70.45 436.5,70.45 437.5,70.45 438.5,70.45 439.5,70.45 440.5,70.45 441.5,70.45 442.5,70.45 443.5,70.45 444.5,70.45 445.5,70.45 446.5,70.45 447.5,70.45 448.5,70.45 449.5,70.45 450.5,70.45 451.5,70.45 452.5,70.45 453.5,70.45 454.5,70.45 455.5,70.45 456.5,70.45 457.5,70.45 458.5,70.45 459.5,70.45 460.5,70.45 461.5,70.45 462.5,70.45 463.5,70.45 464.5,70.45 465.5,70.45 466.5,70.45 467.5,70.45 468.5,70.45 469.5,70.45 470.5,70.45 471.5,70.45 472.5,70.45 473.5,70.45 474.5,70.45 475.5,70.45 476.5,70.45 477.5,70.45 478.5,70.45 479.5,70.45 480.5,70.45 481.5,70.45 482.5,70.45 483.5,70.45 L483.5,70.5 Z" fill="#619CFF" fill-opacity="0.3" stroke="#619CFF" stroke-width="0.5" stroke-opacity="0.5" stroke-linejoin="round"/>
<text x="401.05" y="13.9" font-size="7" fill="#222" stroke="#222" stroke-width="0.25" text-anchor="middle">sigma[1]</text>
<path d="M308.2 71.1H310.1M308.2 58.55H310.1M308.2 46H310.1M308.2 33.45H310.1M308.2 20.9H310.1M339.4 72.9V74.8M378.75 72.9V74.8M418.1 72.9V74.8M457.45 72.9V74.8" stroke="#444" stroke-width="0.55" fill="none"/>
<text x="306" y="73.6" font-size="7" fill="#5c5c5c" stroke="#5c5c5c" stroke-width="0.2" text-anchor="end">0</text><text x="306" y="61.05" font-size="7" fill="#5c5c5c" stroke="#5c5c5c" stroke-width="0.2" text-anchor="end">1</text><text x="306" y="48.5" font-size="7" fill="#5c5c5c" stroke="#5c5c5c" stroke-width="0.2" text-anchor="end">2</text><text x="306" y="35.95" font-size="7" fill="#5c5c5c" stroke="#5c5c5c" stroke-width="0.2" text-anchor="end">3</text><text x="306" y="23.4" font-size="7" fill="#5c5c5c" stroke="#5c5c5c" stroke-width="0.2" text-anchor="end">4</text><text x="339.1" y="83.3" font-size="7" fill="#5c5c5c" stroke="#5c5c5c" stroke-width="0.2" text-anchor="middle">4.0</text><text x="378.45" y="83.3" font-size="7" fill="#5c5c5c" stroke="#5c5c5c" stroke-width="0.2" text-anchor="middle">4.5</text><text x="417.8" y="83.3" font-size="7" fill="#5c5c5c" stroke="#5c5c5c" stroke-width="0.2" text-anchor="middle">5.0</text><text x="457.15" y="83.3" font-size="7" fill="#5c5c5c" stroke="#5c5c5c" stroke-width="0.2" text-anchor="middle">5.5</text>
<rect x="310.1" y="88" width="181.9" height="13.4" fill="#D9D9D9"/>
<rect x="310.1" y="101.4" width="181.9" height="55.6" fill="#ECECEC"/>
<path d="M310.1 102.53H492M310.1 108.67H492M310.1 114.83H492M310.1 120.97H492M310.1 127.12H492M310.1 133.27H492M310.1 139.43H492M310.1 145.57H492M310.1 151.73H492" stroke="#fff" stroke-width="0.9" stroke-opacity="0.32" fill="none"/>
<path d="M335.68 101.4V157M379.43 101.4V157M423.18 101.4V157M466.93 101.4V157M310.1 148.65H492M310.1 136.35H492M310.1 124.05H492M310.1 111.75H492" stroke="#fff" stroke-width="0.36" fill="none"/>
<path d="M313.8 101.4V157M357.55 101.4V157M401.3 101.4V157M445.05 101.4V157M488.8 101.4V157M310.1 154.8H492M310.1 142.5H492M310.1 130.2H492M310.1 117.9H492M310.1 105.6H492" stroke="#fff" stroke-width="0.5" fill="none"/>
<path d="M343.5,154.5 L343.5,154.45 344.5,154.45 345.5,154.45 346.5,154.45 347.5,154.45 348.5,154.45 349.5,154.45 350.5,154.45 351.5,154.45 352.5,154.44 353.5,154.39 354.5,154.33 355.5,154.27 356.5,154.19 357.5,154.11 358.5,154.04 359.5,153.96 360.5,153.88 361.5,153.81 362.5,153.73 363.5,153.65 364.5,153.56 365.5,153.47 366.5,153.37 367.5,153.26 368.5,153.13 369.5,152.99 370.5,152.84 371.5,152.65 372.5,152.44 373.5,152.2 374.5,151.92 375.5,151.62 376.5,151.28 377.5,150.92 378.5,150.52 379.5,150.09 380.5,149.58 381.5,148.99 382.5,148.28 383.5,147.51 384.5,146.71 385.5,145.94 386.5,145.22 387.5,144.52 388.5,143.78 389.5,142.9 390.5,141.77 391.5,140.32 392.5,138.55 393.5,136.57 394.5,134.49 395.5,132.36 396.5,130.15 397.5,127.85 398.5,125.47 399.5,123.04 400.5,120.56 401.5,118.07 402.5,115.68 403.5,113.5 404.5,111.63 405.5,110.05 406.5,108.69 407.5,107.52 408.5,106.64 409.5,106.18 410.5,106.26 411.5,106.87 412.5,107.93 413.5,109.33 414.5,111.02 415.5,113.08 416.5,115.66 417.5,118.71 418.5,122 419.5,125.25 420.5,128.3 421.5,131.16 422.5,133.86 423.5,136.4 424.5,138.71 425.5,140.8 426.5,142.69 427.5,144.41 428.5,145.95 429.5,147.31 430.5,148.48 431.5,149.51 432.5,150.41 433.5,151.19 434.5,151.84 435.5,152.38 436.5,152.83 437.5,153.2 438.5,153.51 439.5,153.74 440.5,153.91 441.5,154.03 442.5,154.12 443.5,154.21 444.5,154.28 445.5,154.35 446.5,154.4 L446.5,154.5 Z" fill="#F8766D" fill-opacity="0.3" stroke="#F8766D" stroke-width="0.5" stroke-opacity="0.5" stroke-linejoin="round"/>
<path d="M352.5,154.5 L352.5,154.44 353.5,154.39 354.5,154.33 355.5,154.27 356.5,154.19 357.5,154.11 358.5,154.03 359.5,153.95 360.5,153.88 361.5,153.8 362.5,153.72 363.5,153.64 364.5,153.56 365.5,153.47 366.5,153.37 367.5,153.26 368.5,153.14 369.5,153 370.5,152.85 371.5,152.67 372.5,152.46 373.5,152.21 374.5,151.94 375.5,151.63 376.5,151.3 377.5,150.93 378.5,150.53 379.5,150.08 380.5,149.57 381.5,148.96 382.5,148.24 383.5,147.44 384.5,146.63 385.5,145.84 386.5,145.1 387.5,144.4 388.5,143.65 389.5,142.78 390.5,141.67 391.5,140.23 392.5,138.5 393.5,136.58 394.5,134.58 395.5,132.55 396.5,130.49 397.5,128.37 398.5,126.23 399.5,124.06 400.5,121.85 401.5,119.6 402.5,117.33 403.5,115.13 404.5,113.1 405.5,111.26 406.5,109.56 407.5,108.05 408.5,106.83 409.5,106.09 410.5,105.93 411.5,106.34 412.5,107.25 413.5,108.54 414.5,110.18 415.5,112.24 416.5,114.86 417.5,118 418.5,121.42 419.5,124.79 420.5,127.97 421.5,130.95 422.5,133.76 423.5,136.38 424.5,138.76 425.5,140.9 426.5,142.82 427.5,144.54 428.5,146.09 429.5,147.43 430.5,148.59 431.5,149.6 432.5,150.48 433.5,151.24 434.5,151.88 435.5,152.4 436.5,152.84 437.5,153.21 438.5,153.51 439.5,153.74 440.5,153.9 441.5,154.02 442.5,154.12 443.5,154.21 444.5,154.28 445.5,154.35 446.5,154.4 447.5,154.44 448.5,154.45 449.5,154.45 450.5,154.45 451.5,154.45 452.5,154.45 453.5,154.45 454.5,154.45 455.5,154.45 L455.5,154.5 Z" fill="#00BA38" fill-opacity="0.3" stroke="#00BA38" stroke-width="0.5" stroke-opacity="0.5" stroke-linejoin="round"/>
<path d="M318.5,154.5 L318.5,154.45 319.5,154.45 320.5,154.45 321.5,154.45 322.5,154.45 323.5,154.45 324.5,154.45 325.5,154.45 326.5,154.45 327.5,154.45 328.5,154.45 329.5,154.45 330.5,154.45 331.5,154.45 332.5,154.45 333.5,154.45 334.5,154.45 335.5,154.45 336.5,154.45 337.5,154.45 338.5,154.45 339.5,154.45 340.5,154.45 341.5,154.45 342.5,154.45 343.5,154.45 344.5,154.45 345.5,154.45 346.5,154.45 347.5,154.45 348.5,154.45 349.5,154.45 350.5,154.45 351.5,154.45 352.5,154.44 353.5,154.39 354.5,154.34 355.5,154.27 356.5,154.19 357.5,154.12 358.5,154.04 359.5,153.96 360.5,153.88 361.5,153.8 362.5,153.72 363.5,153.64 364.5,153.55 365.5,153.46 366.5,153.36 367.5,153.24 368.5,153.12 369.5,152.98 370.5,152.83 371.5,152.65 372.5,152.44 373.5,152.2 374.5,151.93 375.5,151.63 376.5,151.31 377.5,150.95 378.5,150.56 379.5,150.13 380.5,149.63 381.5,149.03 382.5,148.33 383.5,147.55 384.5,146.74 385.5,145.96 386.5,145.22 387.5,144.51 388.5,143.74 389.5,142.85 390.5,141.7 391.5,140.23 392.5,138.44 393.5,136.46 394.5,134.39 395.5,132.29 396.5,130.15 397.5,127.97 398.5,125.77 399.5,123.56 400.5,121.32 401.5,119.06 402.5,116.79 403.5,114.58 404.5,112.49 405.5,110.46 406.5,108.42 407.5,106.43 408.5,104.76 409.5,103.77 410.5,103.73 411.5,104.61 412.5,106.18 413.5,108.12 414.5,110.22 415.5,112.54 416.5,115.25 417.5,118.36 418.5,121.66 419.5,124.88 420.5,127.86 421.5,130.61 422.5,133.18 423.5,135.6 424.5,137.86 425.5,139.97 426.5,141.97 427.5,143.85 428.5,145.57 429.5,147.09 430.5,148.38 431.5,149.48 432.5,150.42 433.5,151.21 434.5,151.86 435.5,152.39 436.5,152.84 437.5,153.21 438.5,153.51 439.5,153.74 440.5,153.91 441.5,154.02 442.5,154.12 443.5,154.21 444.5,154.28 445.5,154.35 446.5,154.4 447.5,154.44 448.5,154.45 449.5,154.45 450.5,154.45 451.5,154.45 452.5,154.45 453.5,154.45 454.5,154.45 455.5,154.45 456.5,154.45 457.5,154.45 458.5,154.45 459.5,154.45 460.5,154.45 461.5,154.45 462.5,154.45 463.5,154.45 464.5,154.45 465.5,154.45 466.5,154.45 467.5,154.45 468.5,154.45 469.5,154.45 470.5,154.45 471.5,154.45 472.5,154.45 473.5,154.45 474.5,154.45 475.5,154.45 476.5,154.45 477.5,154.45 478.5,154.45 479.5,154.45 480.5,154.45 481.5,154.45 482.5,154.45 483.5,154.45 L483.5,154.5 Z" fill="#619CFF" fill-opacity="0.3" stroke="#619CFF" stroke-width="0.5" stroke-opacity="0.5" stroke-linejoin="round"/>
<text x="401.05" y="97.9" font-size="7" fill="#222" stroke="#222" stroke-width="0.25" text-anchor="middle">sigma[2]</text>
<path d="M308.2 154.8H310.1M308.2 142.5H310.1M308.2 130.2H310.1M308.2 117.9H310.1M308.2 105.6H310.1M313.8 157V158.9M357.55 157V158.9M401.3 157V158.9M445.05 157V158.9M488.8 157V158.9" stroke="#444" stroke-width="0.55" fill="none"/>
<text x="306" y="157.3" font-size="7" fill="#5c5c5c" stroke="#5c5c5c" stroke-width="0.2" text-anchor="end">0</text><text x="306" y="145" font-size="7" fill="#5c5c5c" stroke="#5c5c5c" stroke-width="0.2" text-anchor="end">1</text><text x="306" y="132.7" font-size="7" fill="#5c5c5c" stroke="#5c5c5c" stroke-width="0.2" text-anchor="end">2</text><text x="306" y="120.4" font-size="7" fill="#5c5c5c" stroke="#5c5c5c" stroke-width="0.2" text-anchor="end">3</text><text x="306" y="108.1" font-size="7" fill="#5c5c5c" stroke="#5c5c5c" stroke-width="0.2" text-anchor="end">4</text><text x="313.5" y="167.5" font-size="7" fill="#5c5c5c" stroke="#5c5c5c" stroke-width="0.2" text-anchor="middle">0.8</text><text x="357.25" y="167.5" font-size="7" fill="#5c5c5c" stroke="#5c5c5c" stroke-width="0.2" text-anchor="middle">1.2</text><text x="401" y="167.5" font-size="7" fill="#5c5c5c" stroke="#5c5c5c" stroke-width="0.2" text-anchor="middle">1.6</text><text x="444.75" y="167.5" font-size="7" fill="#5c5c5c" stroke="#5c5c5c" stroke-width="0.2" text-anchor="middle">2.0</text><text x="488.5" y="167.5" font-size="7" fill="#5c5c5c" stroke="#5c5c5c" stroke-width="0.2" text-anchor="middle">2.4</text>
<rect x="310.1" y="172.5" width="181.9" height="13.4" fill="#D9D9D9"/>
<rect x="310.1" y="185.9" width="181.9" height="54.7" fill="#ECECEC"/>
<path d="M310.1 188.4H492M310.1 194.4H492M310.1 200.4H492M310.1 206.4H492M310.1 212.4H492M310.1 218.4H492M310.1 224.4H492M310.1 230.4H492M310.1 236.4H492" stroke="#fff" stroke-width="0.9" stroke-opacity="0.32" fill="none"/>
<path d="M324.3 185.9V240.6M376.3 185.9V240.6M428.3 185.9V240.6M480.3 185.9V240.6M310.1 233.4H492M310.1 221.4H492M310.1 209.4H492M310.1 197.4H492" stroke="#fff" stroke-width="0.36" fill="none"/>
<path d="M350.3 185.9V240.6M402.3 185.9V240.6M454.3 185.9V240.6M310.1 239.4H492M310.1 227.4H492M310.1 215.4H492M310.1 203.4H492M310.1 191.4H492" stroke="#fff" stroke-width="0.5" fill="none"/>
<path d="M338.5,239 L338.5,238.8 339.5,238.76 340.5,238.71 341.5,238.65 342.5,238.59 343.5,238.53 344.5,238.46 345.5,238.39 346.5,238.31 347.5,238.23 348.5,238.14 349.5,238.05 350.5,237.93 351.5,237.77 352.5,237.57 353.5,237.31 354.5,237.02 355.5,236.69 356.5,236.33 357.5,235.95 358.5,235.56 359.5,235.15 360.5,234.74 361.5,234.31 362.5,233.86 363.5,233.38 364.5,232.87 365.5,232.31 366.5,231.7 367.5,231.04 368.5,230.31 369.5,229.49 370.5,228.55 371.5,227.44 372.5,226.12 373.5,224.64 374.5,223 375.5,221.22 376.5,219.27 377.5,217.16 378.5,214.92 379.5,212.6 380.5,210.21 381.5,207.73 382.5,205.21 383.5,202.8 384.5,200.62 385.5,198.71 386.5,197.01 387.5,195.46 388.5,194.13 389.5,193.1 390.5,192.46 391.5,192.23 392.5,192.3 393.5,192.58 394.5,193.01 395.5,193.63 396.5,194.53 397.5,195.75 398.5,197.22 399.5,198.84 400.5,200.56 401.5,202.37 402.5,204.3 403.5,206.32 404.5,208.38 405.5,210.44 406.5,212.5 407.5,214.55 408.5,216.57 409.5,218.53 410.5,220.41 411.5,222.21 412.5,223.93 413.5,225.55 414.5,227.03 415.5,228.38 416.5,229.61 417.5,230.73 418.5,231.72 419.5,232.58 420.5,233.3 421.5,233.9 422.5,234.43 423.5,234.91 424.5,235.35 425.5,235.75 426.5,236.12 427.5,236.45 428.5,236.76 429.5,237.04 430.5,237.31 431.5,237.56 432.5,237.8 433.5,238.03 434.5,238.24 435.5,238.41 436.5,238.55 437.5,238.64 438.5,238.71 439.5,238.75 440.5,238.78 441.5,238.81 442.5,238.84 443.5,238.86 444.5,238.89 445.5,238.91 446.5,238.93 447.5,238.94 L447.5,239 Z" fill="#F8766D" fill-opacity="0.3" stroke="#F8766D" stroke-width="0.5" stroke-opacity="0.5" stroke-linejoin="round"/>
<path d="M341.5,239 L341.5,238.65 342.5,238.59 343.5,238.53 344.5,238.46 345.5,238.39 346.5,238.31 347.5,238.23 348.5,238.14 349.5,238.05 350.5,237.93 351.5,237.77 352.5,237.56 353.5,237.31 354.5,237.01 355.5,236.67 356.5,236.3 357.5,235.91 358.5,235.5 359.5,235.09 360.5,234.66 361.5,234.23 362.5,233.78 363.5,233.3 364.5,232.8 365.5,232.26 366.5,231.67 367.5,231.04 368.5,230.35 369.5,229.57 370.5,228.67 371.5,227.59 372.5,226.32 373.5,224.86 374.5,223.25 375.5,221.48 376.5,219.54 377.5,217.42 378.5,215.16 379.5,212.82 380.5,210.4 381.5,207.88 382.5,205.34 383.5,202.9 384.5,200.7 385.5,198.77 386.5,197.05 387.5,195.48 388.5,194.11 389.5,193.04 390.5,192.34 391.5,192.04 392.5,192.03 393.5,192.22 394.5,192.57 395.5,193.11 396.5,193.96 397.5,195.15 398.5,196.63 399.5,198.29 400.5,200.07 401.5,201.98 402.5,204.02 403.5,206.16 404.5,208.33 405.5,210.49 406.5,212.64 407.5,214.75 408.5,216.81 409.5,218.78 410.5,220.65 411.5,222.42 412.5,224.1 413.5,225.67 414.5,227.11 415.5,228.42 416.5,229.61 417.5,230.71 418.5,231.69 419.5,232.54 420.5,233.25 421.5,233.86 422.5,234.4 423.5,234.89 424.5,235.34 425.5,235.75 426.5,236.12 427.5,236.47 428.5,236.78 429.5,237.06 430.5,237.33 431.5,237.58 432.5,237.82 433.5,238.04 434.5,238.24 435.5,238.41 436.5,238.55 437.5,238.64 438.5,238.71 439.5,238.75 440.5,238.78 441.5,238.81 442.5,238.84 443.5,238.86 444.5,238.89 445.5,238.91 446.5,238.93 447.5,238.94 448.5,238.95 449.5,238.95 450.5,238.95 451.5,238.95 L451.5,239 Z" fill="#00BA38" fill-opacity="0.3" stroke="#00BA38" stroke-width="0.5" stroke-opacity="0.5" stroke-linejoin="round"/>
<path d="M318.5,239 L318.5,238.95 319.5,238.95 320.5,238.95 321.5,238.95 322.5,238.95 323.5,238.95 324.5,238.95 325.5,238.95 326.5,238.95 327.5,238.95 328.5,238.95 329.5,238.95 330.5,238.95 331.5,238.95 332.5,238.95 333.5,238.95 334.5,238.94 335.5,238.91 336.5,238.88 337.5,238.85 338.5,238.8 339.5,238.76 340.5,238.71 341.5,238.65 342.5,238.59 343.5,238.53 344.5,238.46 345.5,238.39 346.5,238.31 347.5,238.23 348.5,238.14 349.5,238.05 350.5,237.92 351.5,237.76 352.5,237.54 353.5,237.27 354.5,236.94 355.5,236.56 356.5,236.15 357.5,235.7 358.5,235.23 359.5,234.74 360.5,234.24 361.5,233.74 362.5,233.22 363.5,232.7 364.5,232.17 365.5,231.62 366.5,231.05 367.5,230.45 368.5,229.79 369.5,229.06 370.5,228.2 371.5,227.15 372.5,225.9 373.5,224.46 374.5,222.87 375.5,221.12 376.5,219.21 377.5,217.15 378.5,214.96 379.5,212.71 380.5,210.38 381.5,207.95 382.5,205.44 383.5,202.97 384.5,200.59 385.5,198.29 386.5,195.98 387.5,193.62 388.5,191.37 389.5,189.52 390.5,188.34 391.5,187.99 392.5,188.39 393.5,189.32 394.5,190.54 395.5,191.93 396.5,193.47 397.5,195.17 398.5,196.98 399.5,198.83 400.5,200.69 401.5,202.59 402.5,204.55 403.5,206.57 404.5,208.59 405.5,210.59 406.5,212.59 407.5,214.59 408.5,216.56 409.5,218.48 410.5,220.34 411.5,222.14 412.5,223.86 413.5,225.49 414.5,226.99 415.5,228.36 416.5,229.6 417.5,230.73 418.5,231.73 419.5,232.59 420.5,233.31 421.5,233.91 422.5,234.44 423.5,234.91 424.5,235.35 425.5,235.75 426.5,236.12 427.5,236.45 428.5,236.76 429.5,237.05 430.5,237.32 431.5,237.57 432.5,237.81 433.5,238.04 434.5,238.24 435.5,238.42 436.5,238.55 437.5,238.65 438.5,238.71 439.5,238.75 440.5,238.78 441.5,238.81 442.5,238.84 443.5,238.86 444.5,238.88 445.5,238.91 446.5,238.92 447.5,238.94 448.5,238.95 449.5,238.95 450.5,238.95 451.5,238.95 452.5,238.95 453.5,238.95 454.5,238.95 455.5,238.95 456.5,238.95 457.5,238.95 458.5,238.95 459.5,238.95 460.5,238.95 461.5,238.95 462.5,238.95 463.5,238.95 464.5,238.95 465.5,238.95 466.5,238.95 467.5,238.95 468.5,238.95 469.5,238.95 470.5,238.95 471.5,238.95 472.5,238.95 473.5,238.95 474.5,238.95 475.5,238.95 476.5,238.95 477.5,238.95 478.5,238.95 479.5,238.95 480.5,238.95 481.5,238.95 482.5,238.95 483.5,238.95 L483.5,239 Z" fill="#619CFF" fill-opacity="0.3" stroke="#619CFF" stroke-width="0.5" stroke-opacity="0.5" stroke-linejoin="round"/>
<text x="401.05" y="182.4" font-size="7" fill="#222" stroke="#222" stroke-width="0.25" text-anchor="middle">sigma[3]</text>
<path d="M308.2 239.4H310.1M308.2 227.4H310.1M308.2 215.4H310.1M308.2 203.4H310.1M308.2 191.4H310.1M350.3 240.6V242.5M402.3 240.6V242.5M454.3 240.6V242.5" stroke="#444" stroke-width="0.55" fill="none"/>
<text x="306" y="241.9" font-size="7" fill="#5c5c5c" stroke="#5c5c5c" stroke-width="0.2" text-anchor="end">0</text><text x="306" y="229.9" font-size="7" fill="#5c5c5c" stroke="#5c5c5c" stroke-width="0.2" text-anchor="end">1</text><text x="306" y="217.9" font-size="7" fill="#5c5c5c" stroke="#5c5c5c" stroke-width="0.2" text-anchor="end">2</text><text x="306" y="205.9" font-size="7" fill="#5c5c5c" stroke="#5c5c5c" stroke-width="0.2" text-anchor="end">3</text><text x="306" y="193.9" font-size="7" fill="#5c5c5c" stroke="#5c5c5c" stroke-width="0.2" text-anchor="end">4</text><text x="350" y="252.1" font-size="7" fill="#5c5c5c" stroke="#5c5c5c" stroke-width="0.2" text-anchor="middle">1.6</text><text x="402" y="252.1" font-size="7" fill="#5c5c5c" stroke="#5c5c5c" stroke-width="0.2" text-anchor="middle">2.0</text><text x="454" y="252.1" font-size="7" fill="#5c5c5c" stroke="#5c5c5c" stroke-width="0.2" text-anchor="middle">2.4</text>
<text transform="translate(298.7 129.9) rotate(-90)" font-size="8.2" fill="#111" stroke="#111" stroke-width="0.25" text-anchor="middle">density</text>
<text x="400.8" y="262.3" font-size="8.2" fill="#111" stroke="#111" stroke-width="0.25" text-anchor="middle">value</text>
<text x="504.6" y="111.6" font-size="8" fill="#111" stroke="#111" stroke-width="0.25">Chain</text>
<rect x="504.9" y="116.5" width="12.5" height="13.2" fill="#F2F2F2"/>
<rect x="505.3" y="116.9" width="11.7" height="12.4" fill="#F8766D" fill-opacity="0.3" stroke="#F8766D" stroke-width="0.55"/>
<text x="523.3" y="126.5" font-size="7" fill="#1a1a1a" stroke="#1a1a1a" stroke-width="0.2" text-anchor="middle">1</text>
<rect x="504.9" y="129.7" width="12.5" height="13" fill="#F2F2F2"/>
<rect x="505.3" y="130.1" width="11.7" height="12.2" fill="#00BA38" fill-opacity="0.3" stroke="#00BA38" stroke-width="0.55"/>
<text x="523.3" y="139.6" font-size="7" fill="#1a1a1a" stroke="#1a1a1a" stroke-width="0.2" text-anchor="middle">2</text>
<rect x="504.9" y="142.7" width="12.5" height="12.9" fill="#F2F2F2"/>
<rect x="505.3" y="143.1" width="11.7" height="12.1" fill="#619CFF" fill-opacity="0.3" stroke="#619CFF" stroke-width="0.55"/>
<text x="523.3" y="152.55" font-size="7" fill="#1a1a1a" stroke="#1a1a1a" stroke-width="0.2" text-anchor="middle">3</text>
<rect x="22.1" y="298.4" width="184.3" height="12.5" fill="#D9D9D9"/>
<rect x="22.1" y="310.9" width="184.3" height="52.8" fill="#ECECEC"/>
<path d="M22.1 317.15H206.4M22.1 325.29H206.4M22.1 333.43H206.4M22.1 341.56H206.4M22.1 349.69H206.4M22.1 357.83H206.4" stroke="#fff" stroke-width="0.9" stroke-opacity="0.32" fill="none"/>
<path d="M23 310.9V363.7M52.2 310.9V363.7M81.4 310.9V363.7M110.6 310.9V363.7M139.8 310.9V363.7M169 310.9V363.7M198.2 310.9V363.7M22.1 353.76H206.4M22.1 337.5H206.4M22.1 321.22H206.4" stroke="#fff" stroke-width="0.36" fill="none"/>
<path d="M37.6 310.9V363.7M66.8 310.9V363.7M96 310.9V363.7M125.2 310.9V363.7M154.4 310.9V363.7M183.6 310.9V363.7M22.1 361.9H206.4M22.1 345.63H206.4M22.1 329.36H206.4M22.1 313.09H206.4" stroke="#fff" stroke-width="0.5" fill="none"/>
<path d="M48.51,361.5 L48.51,361.3 49.51,361.27 50.51,361.24 51.51,361.21 52.51,361.14 53.51,361.04 54.51,360.87 55.51,360.66 56.52,360.39 57.52,360.08 58.52,359.75 59.52,359.39 60.52,359.02 61.52,358.65 62.52,358.27 63.52,357.87 64.52,357.46 65.52,357.02 66.52,356.54 67.52,356.03 68.52,355.49 69.52,354.9 70.52,354.28 71.52,353.59 72.53,352.83 73.53,351.96 74.53,350.97 75.53,349.87 76.53,348.67 77.53,347.4 78.53,346.09 79.53,344.76 80.53,343.42 81.53,342.09 82.53,340.77 83.53,339.43 84.53,338.05 85.53,336.63 86.53,335.2 87.53,333.75 88.53,332.3 89.54,330.88 90.54,329.49 91.54,328.13 92.54,326.8 93.54,325.47 94.54,324.14 95.54,322.82 96.54,321.55 97.54,320.36 98.54,319.23 99.54,318.14 100.54,317.08 101.54,316.09 102.54,315.24 103.54,314.62 104.54,314.29 105.54,314.25 106.55,314.45 107.55,314.83 108.55,315.3 109.55,315.77 110.55,316.17 111.55,316.44 112.55,316.59 113.55,316.66 114.55,316.73 115.55,316.93 116.55,317.37 117.55,318.1 118.55,319.09 119.55,320.27 120.55,321.53 121.55,322.81 122.56,324.1 123.56,325.43 124.56,326.83 125.56,328.28 126.56,329.75 127.56,331.18 128.56,332.55 129.56,333.87 130.56,335.14 131.56,336.39 132.56,337.61 133.56,338.81 134.56,339.98 135.56,341.13 136.56,342.25 137.56,343.34 138.56,344.41 139.57,345.46 140.57,346.5 141.57,347.52 142.57,348.52 143.57,349.48 144.57,350.41 145.57,351.29 146.57,352.13 147.57,352.91 148.57,353.66 149.57,354.37 150.57,355.06 151.57,355.73 152.57,356.37 153.57,356.98 154.57,357.55 155.57,358.07 156.58,358.53 157.58,358.93 158.58,359.29 159.58,359.62 160.58,359.92 161.58,360.21 162.58,360.48 163.58,360.73 164.58,360.94 165.58,361.12 166.58,361.25 167.58,361.34 168.58,361.39 169.58,361.42 170.58,361.44 171.58,361.45 L171.58,361.5 Z" fill="#F8766D" fill-opacity="0.3" stroke="#F8766D" stroke-width="0.5" stroke-opacity="0.5" stroke-linejoin="round"/>
<path d="M52.51,361.5 L52.51,361.14 53.51,361.03 54.51,360.87 55.51,360.66 56.52,360.39 57.52,360.09 58.52,359.76 59.52,359.4 60.52,359.04 61.52,358.67 62.52,358.3 63.52,357.91 64.52,357.5 65.52,357.06 66.52,356.59 67.52,356.09 68.52,355.54 69.52,354.96 70.52,354.33 71.52,353.63 72.53,352.86 73.53,351.97 74.53,350.95 75.53,349.82 76.53,348.59 77.53,347.28 78.53,345.93 79.53,344.57 80.53,343.21 81.53,341.88 82.53,340.57 83.53,339.25 84.53,337.91 85.53,336.54 86.53,335.15 87.53,333.75 88.53,332.34 89.54,330.95 90.54,329.57 91.54,328.21 92.54,326.88 93.54,325.55 94.54,324.24 95.54,323 96.54,321.88 97.54,320.94 98.54,320.19 99.54,319.59 100.54,319.11 101.54,318.73 102.54,318.45 103.54,318.28 104.54,318.19 105.54,318.15 106.55,318.13 107.55,318.08 108.55,317.99 109.55,317.84 110.55,317.61 111.55,317.32 112.55,316.99 113.55,316.67 114.55,316.44 115.55,316.43 116.55,316.74 117.55,317.41 118.55,318.42 119.55,319.66 120.55,321.03 121.55,322.43 122.56,323.86 123.56,325.32 124.56,326.84 125.56,328.39 126.56,329.92 127.56,331.39 128.56,332.76 129.56,334.05 130.56,335.27 131.56,336.44 132.56,337.57 133.56,338.66 134.56,339.71 135.56,340.75 136.56,341.76 137.56,342.75 138.56,343.75 139.57,344.76 140.57,345.78 141.57,346.82 142.57,347.85 143.57,348.88 144.57,349.88 145.57,350.85 146.57,351.77 147.57,352.63 148.57,353.44 149.57,354.21 150.57,354.95 151.57,355.66 152.57,356.34 153.57,356.97 154.57,357.55 155.57,358.08 156.58,358.55 157.58,358.95 158.58,359.31 159.58,359.63 160.58,359.94 161.58,360.22 162.58,360.49 163.58,360.73 164.58,360.94 165.58,361.12 166.58,361.25 167.58,361.34 168.58,361.39 169.58,361.42 170.58,361.44 171.58,361.45 172.59,361.45 173.59,361.45 174.59,361.45 175.59,361.45 176.59,361.45 177.59,361.45 L177.59,361.5 Z" fill="#00BA38" fill-opacity="0.3" stroke="#00BA38" stroke-width="0.5" stroke-opacity="0.5" stroke-linejoin="round"/>
<path d="M30.5,361.5 L30.5,361.45 31.5,361.45 32.5,361.45 33.5,361.45 34.5,361.45 35.5,361.45 36.5,361.45 37.5,361.45 38.5,361.45 39.51,361.45 40.51,361.44 41.51,361.43 42.51,361.41 43.51,361.4 44.51,361.38 45.51,361.36 46.51,361.34 47.51,361.32 48.51,361.3 49.51,361.27 50.51,361.24 51.51,361.21 52.51,361.14 53.51,361.04 54.51,360.87 55.51,360.65 56.52,360.38 57.52,360.08 58.52,359.74 59.52,359.38 60.52,359.01 61.52,358.63 62.52,358.25 63.52,357.87 64.52,357.46 65.52,357.02 66.52,356.56 67.52,356.06 68.52,355.52 69.52,354.94 70.52,354.32 71.52,353.64 72.53,352.87 73.53,352 74.53,351 75.53,349.88 76.53,348.67 77.53,347.4 78.53,346.08 79.53,344.74 80.53,343.4 81.53,342.08 82.53,340.77 83.53,339.44 84.53,338.07 85.53,336.66 86.53,335.22 87.53,333.76 88.53,332.29 89.54,330.84 90.54,329.41 91.54,328.03 92.54,326.68 93.54,325.36 94.54,324.08 95.54,322.89 96.54,321.83 97.54,320.94 98.54,320.24 99.54,319.67 100.54,319.18 101.54,318.77 102.54,318.42 103.54,318.13 104.54,317.9 105.54,317.7 106.55,317.49 107.55,317.27 108.55,317.03 109.55,316.77 110.55,316.5 111.55,316.24 112.55,316.01 113.55,315.88 114.55,315.9 115.55,316.17 116.55,316.76 117.55,317.7 118.55,318.91 119.55,320.3 120.55,321.74 121.55,323.16 122.56,324.53 123.56,325.9 124.56,327.29 125.56,328.7 126.56,330.09 127.56,331.42 128.56,332.69 129.56,333.9 130.56,335.09 131.56,336.27 132.56,337.45 133.56,338.63 134.56,339.81 135.56,340.98 136.56,342.13 137.56,343.27 138.56,344.38 139.57,345.46 140.57,346.53 141.57,347.56 142.57,348.55 143.57,349.51 144.57,350.42 145.57,351.29 146.57,352.1 147.57,352.87 148.57,353.6 149.57,354.3 150.57,354.99 151.57,355.67 152.57,356.33 153.57,356.95 154.57,357.53 155.57,358.06 156.58,358.54 157.58,358.95 158.58,359.31 159.58,359.64 160.58,359.95 161.58,360.23 162.58,360.5 163.58,360.74 164.58,360.95 165.58,361.12 166.58,361.25 167.58,361.34 168.58,361.39 169.58,361.42 170.58,361.44 171.58,361.45 172.59,361.45 173.59,361.45 174.59,361.45 175.59,361.45 176.59,361.45 177.59,361.45 178.59,361.45 179.59,361.45 180.59,361.45 181.59,361.45 182.59,361.45 183.59,361.45 184.59,361.45 185.59,361.45 186.59,361.45 187.59,361.45 188.59,361.45 189.6,361.45 190.6,361.45 191.6,361.45 192.6,361.45 193.6,361.45 194.6,361.45 195.6,361.45 196.6,361.45 197.6,361.45 L197.6,361.5 Z" fill="#619CFF" fill-opacity="0.3" stroke="#619CFF" stroke-width="0.5" stroke-opacity="0.5" stroke-linejoin="round"/>
<text x="114.25" y="307.85" font-size="7" fill="#222" stroke="#222" stroke-width="0.25" text-anchor="middle">phi1[1]</text>
<path d="M20.2 361.9H22.1M20.2 345.63H22.1M20.2 329.36H22.1M20.2 313.09H22.1M37.6 363.7V365.6M66.8 363.7V365.6M96 363.7V365.6M125.2 363.7V365.6M154.4 363.7V365.6M183.6 363.7V365.6" stroke="#444" stroke-width="0.55" fill="none"/>
<text x="18" y="364.4" font-size="7" fill="#5c5c5c" stroke="#5c5c5c" stroke-width="0.2" text-anchor="end">0</text><text x="18" y="348.13" font-size="7" fill="#5c5c5c" stroke="#5c5c5c" stroke-width="0.2" text-anchor="end">2</text><text x="18" y="331.86" font-size="7" fill="#5c5c5c" stroke="#5c5c5c" stroke-width="0.2" text-anchor="end">4</text><text x="18" y="315.59" font-size="7" fill="#5c5c5c" stroke="#5c5c5c" stroke-width="0.2" text-anchor="end">6</text><text x="37.3" y="374" font-size="7" fill="#5c5c5c" stroke="#5c5c5c" stroke-width="0.2" text-anchor="middle">-0.1</text><text x="66.5" y="374" font-size="7" fill="#5c5c5c" stroke="#5c5c5c" stroke-width="0.2" text-anchor="middle">0.0</text><text x="95.7" y="374" font-size="7" fill="#5c5c5c" stroke="#5c5c5c" stroke-width="0.2" text-anchor="middle">0.1</text><text x="124.9" y="374" font-size="7" fill="#5c5c5c" stroke="#5c5c5c" stroke-width="0.2" text-anchor="middle">0.2</text><text x="154.1" y="374" font-size="7" fill="#5c5c5c" stroke="#5c5c5c" stroke-width="0.2" text-anchor="middle">0.3</text><text x="183.3" y="374" font-size="7" fill="#5c5c5c" stroke="#5c5c5c" stroke-width="0.2" text-anchor="middle">0.4</text>
<rect x="22.1" y="378.4" width="184.3" height="13" fill="#D9D9D9"/>
<rect x="22.1" y="391.4" width="184.3" height="52.8" fill="#ECECEC"/>
<path d="M22.1 392.45H206.4M22.1 400.13H206.4M22.1 407.82H206.4M22.1 415.5H206.4M22.1 423.18H206.4M22.1 430.87H206.4M22.1 438.55H206.4" stroke="#fff" stroke-width="0.9" stroke-opacity="0.32" fill="none"/>
<path d="M65.92 391.4V444.2M132.57 391.4V444.2M199.23 391.4V444.2M22.1 434.71H206.4M22.1 419.34H206.4M22.1 403.97H206.4" stroke="#fff" stroke-width="0.36" fill="none"/>
<path d="M32.6 391.4V444.2M99.25 391.4V444.2M165.9 391.4V444.2M22.1 442.4H206.4M22.1 427.03H206.4M22.1 411.66H206.4M22.1 396.29H206.4" stroke="#fff" stroke-width="0.5" fill="none"/>
<path d="M31.5,441.9 L31.5,441.85 32.5,441.85 33.5,441.85 34.5,441.85 35.5,441.85 36.5,441.85 37.5,441.84 38.5,441.83 39.51,441.81 40.51,441.79 41.51,441.76 42.51,441.74 43.51,441.71 44.51,441.68 45.51,441.65 46.51,441.62 47.51,441.59 48.51,441.55 49.51,441.51 50.51,441.47 51.51,441.42 52.51,441.36 53.51,441.28 54.51,441.17 55.51,441.04 56.52,440.88 57.52,440.69 58.52,440.49 59.52,440.26 60.52,440.03 61.52,439.78 62.52,439.51 63.52,439.21 64.52,438.88 65.52,438.5 66.52,438.09 67.52,437.64 68.52,437.17 69.52,436.67 70.52,436.15 71.52,435.61 72.53,435.04 73.53,434.46 74.53,433.83 75.53,433.18 76.53,432.49 77.53,431.76 78.53,430.99 79.53,430.2 80.53,429.36 81.53,428.48 82.53,427.54 83.53,426.53 84.53,425.42 85.53,424.24 86.53,422.99 87.53,421.7 88.53,420.38 89.54,419.06 90.54,417.75 91.54,416.47 92.54,415.22 93.54,413.98 94.54,412.75 95.54,411.52 96.54,410.29 97.54,409.05 98.54,407.79 99.54,406.49 100.54,405.14 101.54,403.75 102.54,402.36 103.54,401.01 104.54,399.76 105.54,398.63 106.55,397.61 107.55,396.67 108.55,395.8 109.55,395.04 110.55,394.43 111.55,394.03 112.55,393.85 113.55,393.86 114.55,394 115.55,394.2 116.55,394.44 117.55,394.7 118.55,394.96 119.55,395.26 120.55,395.62 121.55,396.12 122.56,396.78 123.56,397.58 124.56,398.51 125.56,399.51 126.56,400.55 127.56,401.6 128.56,402.68 129.56,403.81 130.56,405.01 131.56,406.28 132.56,407.6 133.56,408.96 134.56,410.33 135.56,411.69 136.56,413.04 137.56,414.35 138.56,415.63 139.57,416.9 140.57,418.18 141.57,419.46 142.57,420.72 143.57,421.97 144.57,423.19 145.57,424.35 146.57,425.45 147.57,426.48 148.57,427.43 149.57,428.3 150.57,429.11 151.57,429.84 152.57,430.49 153.57,431.08 154.57,431.61 155.57,432.12 156.58,432.64 157.58,433.19 158.58,433.81 159.58,434.49 160.58,435.23 161.58,435.99 162.58,436.74 163.58,437.45 164.58,438.09 165.58,438.64 166.58,439.1 167.58,439.48 168.58,439.79 169.58,440.05 170.58,440.28 171.58,440.48 172.59,440.67 173.59,440.83 174.59,440.98 175.59,441.12 176.59,441.23 177.59,441.33 178.59,441.42 179.59,441.49 180.59,441.57 181.59,441.63 182.59,441.7 183.59,441.75 184.59,441.8 185.59,441.84 L185.59,441.9 Z" fill="#F8766D" fill-opacity="0.3" stroke="#F8766D" stroke-width="0.5" stroke-opacity="0.5" stroke-linejoin="round"/>
<path d="M44.51,441.9 L44.51,441.68 45.51,441.65 46.51,441.62 47.51,441.58 48.51,441.54 49.51,441.5 50.51,441.46 51.51,441.41 52.51,441.35 53.51,441.27 54.51,441.16 55.51,441.02 56.52,440.86 57.52,440.67 58.52,440.46 59.52,440.24 60.52,440 61.52,439.76 62.52,439.49 63.52,439.2 64.52,438.87 65.52,438.51 66.52,438.11 67.52,437.68 68.52,437.23 69.52,436.75 70.52,436.25 71.52,435.73 72.53,435.19 73.53,434.61 74.53,433.99 75.53,433.33 76.53,432.62 77.53,431.87 78.53,431.07 79.53,430.24 80.53,429.36 81.53,428.44 82.53,427.47 83.53,426.42 84.53,425.29 85.53,424.08 86.53,422.81 87.53,421.5 88.53,420.16 89.54,418.83 90.54,417.5 91.54,416.21 92.54,414.94 93.54,413.7 94.54,412.47 95.54,411.25 96.54,410.05 97.54,408.86 98.54,407.67 99.54,406.47 100.54,405.23 101.54,403.98 102.54,402.74 103.54,401.56 104.54,400.47 105.54,399.51 106.55,398.63 107.55,397.81 108.55,397.01 109.55,396.27 110.55,395.61 111.55,395.09 112.55,394.72 113.55,394.51 114.55,394.42 115.55,394.4 116.55,394.43 117.55,394.51 118.55,394.62 119.55,394.79 120.55,395.06 121.55,395.48 122.56,396.09 123.56,396.88 124.56,397.81 125.56,398.86 126.56,399.97 127.56,401.11 128.56,402.29 129.56,403.52 130.56,404.82 131.56,406.18 132.56,407.59 133.56,409.02 134.56,410.46 135.56,411.87 136.56,413.25 137.56,414.58 138.56,415.86 139.57,417.12 140.57,418.36 141.57,419.59 142.57,420.8 143.57,421.99 144.57,423.16 145.57,424.28 146.57,425.37 147.57,426.4 148.57,427.38 149.57,428.33 150.57,429.26 151.57,430.16 152.57,431.03 153.57,431.87 154.57,432.67 155.57,433.42 156.58,434.12 157.58,434.78 158.58,435.39 159.58,435.97 160.58,436.53 161.58,437.07 162.58,437.59 163.58,438.07 164.58,438.52 165.58,438.92 166.58,439.28 167.58,439.59 168.58,439.86 169.58,440.1 170.58,440.31 171.58,440.5 172.59,440.68 173.59,440.85 174.59,440.99 175.59,441.12 176.59,441.23 177.59,441.33 178.59,441.42 179.59,441.49 L179.59,441.9 Z" fill="#00BA38" fill-opacity="0.3" stroke="#00BA38" stroke-width="0.5" stroke-opacity="0.5" stroke-linejoin="round"/>
<path d="M30.5,441.9 L30.5,441.85 31.5,441.85 32.5,441.85 33.5,441.85 34.5,441.85 35.5,441.85 36.5,441.85 37.5,441.84 38.5,441.83 39.51,441.81 40.51,441.79 41.51,441.76 42.51,441.74 43.51,441.71 44.51,441.68 45.51,441.65 46.51,441.62 47.51,441.59 48.51,441.55 49.51,441.51 50.51,441.47 51.51,441.42 52.51,441.36 53.51,441.28 54.51,441.17 55.51,441.03 56.52,440.86 57.52,440.67 58.52,440.46 59.52,440.24 60.52,440 61.52,439.76 62.52,439.49 63.52,439.2 64.52,438.88 65.52,438.51 66.52,438.12 67.52,437.69 68.52,437.23 69.52,436.74 70.52,436.22 71.52,435.69 72.53,435.12 73.53,434.52 74.53,433.88 75.53,433.2 76.53,432.48 77.53,431.73 78.53,430.94 79.53,430.13 80.53,429.28 81.53,428.41 82.53,427.49 83.53,426.51 84.53,425.45 85.53,424.31 86.53,423.12 87.53,421.88 88.53,420.61 89.54,419.31 90.54,417.98 91.54,416.64 92.54,415.28 93.54,413.88 94.54,412.44 95.54,410.96 96.54,409.46 97.54,407.96 98.54,406.49 99.54,405.05 100.54,403.65 101.54,402.31 102.54,401.07 103.54,399.98 104.54,399.07 105.54,398.33 106.55,397.73 107.55,397.21 108.55,396.73 109.55,396.29 110.55,395.91 111.55,395.62 112.55,395.43 113.55,395.34 114.55,395.29 115.55,395.26 116.55,395.25 117.55,395.25 118.55,395.28 119.55,395.38 120.55,395.59 121.55,395.97 122.56,396.57 123.56,397.36 124.56,398.31 125.56,399.36 126.56,400.47 127.56,401.6 128.56,402.75 129.56,403.94 130.56,405.18 131.56,406.46 132.56,407.77 133.56,409.09 134.56,410.41 135.56,411.71 136.56,412.98 137.56,414.22 138.56,415.44 139.57,416.67 140.57,417.91 141.57,419.18 142.57,420.46 143.57,421.74 144.57,422.99 145.57,424.22 146.57,425.39 147.57,426.49 148.57,427.54 149.57,428.53 150.57,429.48 151.57,430.38 152.57,431.24 153.57,432.06 154.57,432.83 155.57,433.55 156.58,434.22 157.58,434.85 158.58,435.43 159.58,435.99 160.58,436.54 161.58,437.06 162.58,437.56 163.58,438.04 164.58,438.49 165.58,438.89 166.58,439.25 167.58,439.56 168.58,439.83 169.58,440.07 170.58,440.29 171.58,440.48 172.59,440.67 173.59,440.83 174.59,440.98 175.59,441.12 176.59,441.23 177.59,441.33 178.59,441.42 179.59,441.5 180.59,441.57 181.59,441.64 182.59,441.7 183.59,441.75 184.59,441.8 185.59,441.84 186.59,441.85 187.59,441.85 188.59,441.85 189.6,441.85 190.6,441.85 191.6,441.85 192.6,441.85 193.6,441.85 194.6,441.85 195.6,441.85 196.6,441.85 197.6,441.85 L197.6,441.9 Z" fill="#619CFF" fill-opacity="0.3" stroke="#619CFF" stroke-width="0.5" stroke-opacity="0.5" stroke-linejoin="round"/>
<text x="114.25" y="388.1" font-size="7" fill="#222" stroke="#222" stroke-width="0.25" text-anchor="middle">phi1[2]</text>
<path d="M20.2 442.4H22.1M20.2 427.03H22.1M20.2 411.66H22.1M20.2 396.29H22.1M32.6 444.2V446.1M99.25 444.2V446.1M165.9 444.2V446.1" stroke="#444" stroke-width="0.55" fill="none"/>
<text x="18" y="444.9" font-size="7" fill="#5c5c5c" stroke="#5c5c5c" stroke-width="0.2" text-anchor="end">0</text><text x="18" y="429.53" font-size="7" fill="#5c5c5c" stroke="#5c5c5c" stroke-width="0.2" text-anchor="end">2</text><text x="18" y="414.16" font-size="7" fill="#5c5c5c" stroke="#5c5c5c" stroke-width="0.2" text-anchor="end">4</text><text x="18" y="398.79" font-size="7" fill="#5c5c5c" stroke="#5c5c5c" stroke-width="0.2" text-anchor="end">6</text><text x="32.3" y="454.5" font-size="7" fill="#5c5c5c" stroke="#5c5c5c" stroke-width="0.2" text-anchor="middle">-0.6</text><text x="98.95" y="454.5" font-size="7" fill="#5c5c5c" stroke="#5c5c5c" stroke-width="0.2" text-anchor="middle">-0.4</text><text x="165.6" y="454.5" font-size="7" fill="#5c5c5c" stroke="#5c5c5c" stroke-width="0.2" text-anchor="middle">-0.2</text>
<rect x="22.1" y="458.7" width="184.3" height="13" fill="#D9D9D9"/>
<rect x="22.1" y="471.7" width="184.3" height="52.9" fill="#ECECEC"/>
<path d="M22.1 475.68H206.4M22.1 482.93H206.4M22.1 490.18H206.4M22.1 497.43H206.4M22.1 504.68H206.4M22.1 511.92H206.4M22.1 519.17H206.4" stroke="#fff" stroke-width="0.9" stroke-opacity="0.32" fill="none"/>
<path d="M24.81 471.7V524.6M59.09 471.7V524.6M93.37 471.7V524.6M127.65 471.7V524.6M161.93 471.7V524.6M196.21 471.7V524.6M22.1 515.55H206.4M22.1 501.05H206.4M22.1 486.55H206.4M22.1 472.05H206.4" stroke="#fff" stroke-width="0.36" fill="none"/>
<path d="M41.95 471.7V524.6M76.23 471.7V524.6M110.51 471.7V524.6M144.79 471.7V524.6M179.07 471.7V524.6M22.1 522.8H206.4M22.1 508.3H206.4M22.1 493.8H206.4M22.1 479.3H206.4" stroke="#fff" stroke-width="0.5" fill="none"/>
<path d="M32.5,522.1 L32.5,522.05 33.5,522.05 34.5,522.05 35.5,522.05 36.5,522.05 37.5,522.04 38.5,522.02 39.51,522 40.51,521.98 41.51,521.96 42.51,521.93 43.51,521.91 44.51,521.88 45.51,521.85 46.51,521.82 47.51,521.78 48.51,521.75 49.51,521.71 50.51,521.67 51.51,521.63 52.51,521.58 53.51,521.51 54.51,521.43 55.51,521.33 56.52,521.21 57.52,521.08 58.52,520.93 59.52,520.76 60.52,520.58 61.52,520.36 62.52,520.1 63.52,519.79 64.52,519.43 65.52,519.02 66.52,518.58 67.52,518.1 68.52,517.6 69.52,517.08 70.52,516.55 71.52,516 72.53,515.42 73.53,514.78 74.53,514.07 75.53,513.28 76.53,512.39 77.53,511.42 78.53,510.35 79.53,509.18 80.53,507.94 81.53,506.66 82.53,505.36 83.53,504.08 84.53,502.85 85.53,501.69 86.53,500.6 87.53,499.57 88.53,498.56 89.54,497.52 90.54,496.42 91.54,495.24 92.54,493.99 93.54,492.69 94.54,491.36 95.54,490.01 96.54,488.63 97.54,487.26 98.54,485.92 99.54,484.67 100.54,483.51 101.54,482.42 102.54,481.41 103.54,480.48 104.54,479.65 105.54,478.93 106.55,478.32 107.55,477.8 108.55,477.37 109.55,477.02 110.55,476.73 111.55,476.48 112.55,476.24 113.55,476.01 114.55,475.8 115.55,475.64 116.55,475.58 117.55,475.64 118.55,475.84 119.55,476.18 120.55,476.64 121.55,477.24 122.56,478.03 123.56,478.99 124.56,480.08 125.56,481.24 126.56,482.43 127.56,483.67 128.56,484.98 129.56,486.37 130.56,487.8 131.56,489.23 132.56,490.63 133.56,492.02 134.56,493.39 135.56,494.74 136.56,496.07 137.56,497.35 138.56,498.58 139.57,499.77 140.57,500.92 141.57,502.03 142.57,503.11 143.57,504.16 144.57,505.19 145.57,506.19 146.57,507.17 147.57,508.15 148.57,509.13 149.57,510.12 150.57,511.14 151.57,512.15 152.57,513.14 153.57,514.06 154.57,514.9 155.57,515.66 156.58,516.35 157.58,516.99 158.58,517.56 159.58,518.07 160.58,518.51 161.58,518.89 162.58,519.23 163.58,519.54 164.58,519.81 165.58,520.06 166.58,520.28 167.58,520.49 168.58,520.68 169.58,520.85 170.58,521 171.58,521.14 172.59,521.25 173.59,521.36 174.59,521.45 175.59,521.54 176.59,521.61 177.59,521.68 178.59,521.74 179.59,521.78 180.59,521.82 181.59,521.85 182.59,521.88 183.59,521.9 184.59,521.93 185.59,521.95 186.59,521.97 187.59,521.99 188.59,522.01 189.6,522.03 190.6,522.04 191.6,522.05 192.6,522.05 193.6,522.05 194.6,522.05 195.6,522.05 L195.6,522.1 Z" fill="#F8766D" fill-opacity="0.3" stroke="#F8766D" stroke-width="0.5" stroke-opacity="0.5" stroke-linejoin="round"/>
<path d="M31.5,522.1 L31.5,522.05 32.5,522.05 33.5,522.05 34.5,522.05 35.5,522.05 36.5,522.05 37.5,522.04 38.5,522.02 39.51,522 40.51,521.98 41.51,521.96 42.51,521.93 43.51,521.91 44.51,521.88 45.51,521.85 46.51,521.81 47.51,521.78 48.51,521.74 49.51,521.71 50.51,521.67 51.51,521.62 52.51,521.57 53.51,521.51 54.51,521.43 55.51,521.33 56.52,521.21 57.52,521.08 58.52,520.93 59.52,520.76 60.52,520.58 61.52,520.37 62.52,520.11 63.52,519.81 64.52,519.45 65.52,519.05 66.52,518.61 67.52,518.14 68.52,517.64 69.52,517.13 70.52,516.59 71.52,516.05 72.53,515.48 73.53,514.87 74.53,514.22 75.53,513.52 76.53,512.77 77.53,511.99 78.53,511.17 79.53,510.31 80.53,509.41 81.53,508.47 82.53,507.49 83.53,506.46 84.53,505.39 85.53,504.26 86.53,503.08 87.53,501.86 88.53,500.58 89.54,499.25 90.54,497.84 91.54,496.36 92.54,494.85 93.54,493.33 94.54,491.82 95.54,490.31 96.54,488.8 97.54,487.31 98.54,485.89 99.54,484.55 100.54,483.32 101.54,482.19 102.54,481.15 103.54,480.22 104.54,479.42 105.54,478.75 106.55,478.2 107.55,477.76 108.55,477.41 109.55,477.15 110.55,476.95 111.55,476.8 112.55,476.67 113.55,476.56 114.55,476.48 115.55,476.43 116.55,476.44 117.55,476.5 118.55,476.61 119.55,476.76 120.55,477 121.55,477.37 122.56,477.96 123.56,478.79 124.56,479.82 125.56,480.97 126.56,482.2 127.56,483.5 128.56,484.89 129.56,486.36 130.56,487.87 131.56,489.37 132.56,490.83 133.56,492.26 134.56,493.65 135.56,495 136.56,496.3 137.56,497.54 138.56,498.73 139.57,499.87 140.57,500.97 141.57,502.03 142.57,503.07 143.57,504.09 144.57,505.09 145.57,506.08 146.57,507.06 147.57,508.04 148.57,509.03 149.57,510.05 150.57,511.08 151.57,512.12 152.57,513.13 153.57,514.06 154.57,514.91 155.57,515.67 156.58,516.37 157.58,517.01 158.58,517.58 159.58,518.08 160.58,518.52 161.58,518.9 162.58,519.24 163.58,519.54 164.58,519.81 165.58,520.05 166.58,520.28 167.58,520.49 168.58,520.68 169.58,520.85 170.58,521.01 171.58,521.14 172.59,521.26 173.59,521.36 174.59,521.45 175.59,521.54 176.59,521.62 177.59,521.68 178.59,521.74 179.59,521.78 180.59,521.82 181.59,521.85 182.59,521.87 183.59,521.9 184.59,521.92 185.59,521.95 186.59,521.97 187.59,521.99 188.59,522.01 189.6,522.03 190.6,522.04 191.6,522.05 192.6,522.05 193.6,522.05 194.6,522.05 195.6,522.05 196.6,522.05 L196.6,522.1 Z" fill="#00BA38" fill-opacity="0.3" stroke="#00BA38" stroke-width="0.5" stroke-opacity="0.5" stroke-linejoin="round"/>
<path d="M30.5,522.1 L30.5,522.05 31.5,522.05 32.5,522.05 33.5,522.05 34.5,522.05 35.5,522.05 36.5,522.05 37.5,522.04 38.5,522.02 39.51,522 40.51,521.98 41.51,521.96 42.51,521.94 43.51,521.91 44.51,521.88 45.51,521.85 46.51,521.82 47.51,521.78 48.51,521.74 49.51,521.7 50.51,521.66 51.51,521.62 52.51,521.57 53.51,521.5 54.51,521.42 55.51,521.32 56.52,521.21 57.52,521.08 58.52,520.93 59.52,520.77 60.52,520.59 61.52,520.38 62.52,520.13 63.52,519.83 64.52,519.48 65.52,519.08 66.52,518.64 67.52,518.17 68.52,517.66 69.52,517.14 70.52,516.59 71.52,516.03 72.53,515.44 73.53,514.82 74.53,514.15 75.53,513.43 76.53,512.68 77.53,511.89 78.53,511.08 79.53,510.23 80.53,509.35 81.53,508.43 82.53,507.47 83.53,506.47 84.53,505.42 85.53,504.32 86.53,503.16 87.53,501.95 88.53,500.69 89.54,499.35 90.54,497.94 91.54,496.45 92.54,494.93 93.54,493.39 94.54,491.86 95.54,490.34 96.54,488.82 97.54,487.32 98.54,485.89 99.54,484.56 100.54,483.33 101.54,482.19 102.54,481.13 103.54,480.14 104.54,479.24 105.54,478.43 106.55,477.7 107.55,477.04 108.55,476.47 109.55,476.02 110.55,475.71 111.55,475.54 112.55,475.48 113.55,475.52 114.55,475.63 115.55,475.78 116.55,475.97 117.55,476.17 118.55,476.39 119.55,476.63 120.55,476.93 121.55,477.35 122.56,477.97 123.56,478.82 124.56,479.87 125.56,481.03 126.56,482.26 127.56,483.55 128.56,484.93 129.56,486.39 130.56,487.88 131.56,489.37 132.56,490.82 133.56,492.24 134.56,493.63 135.56,494.98 136.56,496.29 137.56,497.55 138.56,498.75 139.57,499.89 140.57,501 141.57,502.07 142.57,503.11 143.57,504.13 144.57,505.13 145.57,506.11 146.57,507.08 147.57,508.05 148.57,509.03 149.57,510.03 150.57,511.06 151.57,512.1 152.57,513.1 153.57,514.04 154.57,514.89 155.57,515.66 156.58,516.36 157.58,517 158.58,517.58 159.58,518.09 160.58,518.53 161.58,518.91 162.58,519.25 163.58,519.55 164.58,519.82 165.58,520.06 166.58,520.29 167.58,520.49 168.58,520.68 169.58,520.85 170.58,521 171.58,521.13 172.59,521.25 173.59,521.35 174.59,521.45 175.59,521.53 176.59,521.61 177.59,521.68 178.59,521.73 179.59,521.78 180.59,521.82 181.59,521.85 182.59,521.87 183.59,521.9 184.59,521.93 185.59,521.95 186.59,521.97 187.59,521.99 188.59,522.01 189.6,522.03 190.6,522.04 191.6,522.05 192.6,522.05 193.6,522.05 194.6,522.05 195.6,522.05 196.6,522.05 197.6,522.05 L197.6,522.1 Z" fill="#619CFF" fill-opacity="0.3" stroke="#619CFF" stroke-width="0.5" stroke-opacity="0.5" stroke-linejoin="round"/>
<text x="114.25" y="468.4" font-size="7" fill="#222" stroke="#222" stroke-width="0.25" text-anchor="middle">phi1[3]</text>
<path d="M20.2 522.8H22.1M20.2 508.3H22.1M20.2 493.8H22.1M20.2 479.3H22.1M41.95 524.6V526.5M76.23 524.6V526.5M110.51 524.6V526.5M144.79 524.6V526.5M179.07 524.6V526.5" stroke="#444" stroke-width="0.55" fill="none"/>
<text x="18" y="525.3" font-size="7" fill="#5c5c5c" stroke="#5c5c5c" stroke-width="0.2" text-anchor="end">0</text><text x="18" y="510.8" font-size="7" fill="#5c5c5c" stroke="#5c5c5c" stroke-width="0.2" text-anchor="end">2</text><text x="18" y="496.3" font-size="7" fill="#5c5c5c" stroke="#5c5c5c" stroke-width="0.2" text-anchor="end">4</text><text x="18" y="481.8" font-size="7" fill="#5c5c5c" stroke="#5c5c5c" stroke-width="0.2" text-anchor="end">6</text><text x="41.65" y="534.8" font-size="7" fill="#5c5c5c" stroke="#5c5c5c" stroke-width="0.2" text-anchor="middle">-0.4</text><text x="75.93" y="534.8" font-size="7" fill="#5c5c5c" stroke="#5c5c5c" stroke-width="0.2" text-anchor="middle">-0.3</text><text x="110.21" y="534.8" font-size="7" fill="#5c5c5c" stroke="#5c5c5c" stroke-width="0.2" text-anchor="middle">-0.2</text><text x="144.49" y="534.8" font-size="7" fill="#5c5c5c" stroke="#5c5c5c" stroke-width="0.2" text-anchor="middle">-0.1</text><text x="178.77" y="534.8" font-size="7" fill="#5c5c5c" stroke="#5c5c5c" stroke-width="0.2" text-anchor="middle">0.0</text>
<text transform="translate(10.8 418.5) rotate(-90)" font-size="8.2" fill="#111" stroke="#111" stroke-width="0.25" text-anchor="middle">density</text>
<text x="113.7" y="544.5" font-size="8.2" fill="#111" stroke="#111" stroke-width="0.25" text-anchor="middle">value</text>
<text x="218.8" y="401" font-size="8" fill="#111" stroke="#111" stroke-width="0.25">Chain</text>
<rect x="218.9" y="405.1" width="12.8" height="12.9" fill="#F2F2F2"/>
<rect x="219.3" y="405.5" width="12" height="12.1" fill="#F8766D" fill-opacity="0.3" stroke="#F8766D" stroke-width="0.55"/>
<text x="237.7" y="414.95" font-size="7" fill="#1a1a1a" stroke="#1a1a1a" stroke-width="0.2" text-anchor="middle">1</text>
<rect x="218.9" y="418" width="12.8" height="12.3" fill="#F2F2F2"/>
<rect x="219.3" y="418.4" width="12" height="11.5" fill="#00BA38" fill-opacity="0.3" stroke="#00BA38" stroke-width="0.55"/>
<text x="237.7" y="427.55" font-size="7" fill="#1a1a1a" stroke="#1a1a1a" stroke-width="0.2" text-anchor="middle">2</text>
<rect x="218.9" y="430.3" width="12.8" height="12.5" fill="#F2F2F2"/>
<rect x="219.3" y="430.7" width="12" height="11.7" fill="#619CFF" fill-opacity="0.3" stroke="#619CFF" stroke-width="0.55"/>
<text x="237.7" y="439.95" font-size="7" fill="#1a1a1a" stroke="#1a1a1a" stroke-width="0.2" text-anchor="middle">3</text>
<rect x="317.1" y="300.1" width="184.1" height="12.2" fill="#D9D9D9"/>
<rect x="317.1" y="312.3" width="184.1" height="52.3" fill="#ECECEC"/>
<path d="M317.1 315.62H501.2M317.1 322.96H501.2M317.1 330.29H501.2M317.1 337.63H501.2M317.1 344.97H501.2M317.1 352.3H501.2M317.1 359.63H501.2" stroke="#fff" stroke-width="0.9" stroke-opacity="0.32" fill="none"/>
<path d="M323.57 312.3V364.6M361.22 312.3V364.6M398.88 312.3V364.6M436.52 312.3V364.6M474.17 312.3V364.6M317.1 355.97H501.2M317.1 341.3H501.2M317.1 326.62H501.2" stroke="#fff" stroke-width="0.36" fill="none"/>
<path d="M342.4 312.3V364.6M380.05 312.3V364.6M417.7 312.3V364.6M455.35 312.3V364.6M493 312.3V364.6M317.1 363.3H501.2M317.1 348.63H501.2M317.1 333.96H501.2M317.1 319.29H501.2" stroke="#fff" stroke-width="0.5" fill="none"/>
<path d="M340.9,363 L340.9,362.69 341.9,362.65 342.9,362.61 343.9,362.56 344.9,362.51 345.9,362.46 346.9,362.39 347.9,362.28 348.9,362.12 349.9,361.89 350.9,361.61 351.9,361.29 352.9,360.93 353.9,360.55 354.9,360.16 355.9,359.78 356.9,359.41 357.9,359.04 358.9,358.69 359.9,358.33 360.9,357.96 361.9,357.58 362.9,357.18 363.9,356.76 364.9,356.31 365.9,355.84 366.9,355.33 367.9,354.77 368.9,354.16 369.9,353.49 370.9,352.77 371.9,352.01 372.9,351.2 373.9,350.35 374.9,349.47 375.9,348.56 376.9,347.61 377.9,346.6 378.9,345.53 379.9,344.38 380.9,343.17 381.9,341.89 382.9,340.57 383.9,339.22 384.9,337.86 385.9,336.5 386.9,335.17 387.9,333.86 388.9,332.59 389.9,331.36 390.9,330.16 391.9,329.01 392.9,327.91 393.9,326.84 394.9,325.78 395.9,324.73 396.9,323.67 397.9,322.63 398.9,321.62 399.9,320.7 400.9,319.88 401.9,319.15 402.9,318.48 403.9,317.89 404.9,317.37 405.9,316.95 406.9,316.59 407.9,316.27 408.9,316 409.9,315.79 410.9,315.65 411.9,315.6 412.9,315.63 413.9,315.74 414.9,315.91 415.9,316.14 416.9,316.42 417.9,316.74 418.9,317.12 419.9,317.58 420.9,318.18 421.9,318.91 422.9,319.77 423.9,320.72 424.9,321.72 425.9,322.76 426.9,323.82 427.9,324.91 428.9,326.04 429.9,327.21 430.9,328.42 431.9,329.64 432.9,330.85 433.9,332.06 434.9,333.27 435.9,334.49 436.9,335.71 437.9,336.93 438.9,338.14 439.9,339.33 440.9,340.51 441.9,341.65 442.9,342.78 443.9,343.88 444.9,344.98 445.9,346.07 446.9,347.15 447.9,348.22 448.9,349.25 449.9,350.25 450.9,351.19 451.9,352.08 452.9,352.9 453.9,353.67 454.9,354.4 455.9,355.1 456.9,355.76 457.9,356.4 458.9,357 459.9,357.56 460.9,358.08 461.9,358.57 462.9,359.01 463.9,359.43 464.9,359.82 465.9,360.2 466.9,360.56 467.9,360.89 468.9,361.21 469.9,361.49 L469.9,363 Z" fill="#F8766D" fill-opacity="0.3" stroke="#F8766D" stroke-width="0.5" stroke-opacity="0.5" stroke-linejoin="round"/>
<path d="M334.9,363 L334.9,362.88 335.9,362.85 336.9,362.83 337.9,362.8 338.9,362.76 339.9,362.73 340.9,362.69 341.9,362.65 342.9,362.61 343.9,362.57 344.9,362.52 345.9,362.46 346.9,362.39 347.9,362.29 348.9,362.12 349.9,361.9 350.9,361.62 351.9,361.3 352.9,360.94 353.9,360.56 354.9,360.17 355.9,359.78 356.9,359.4 357.9,359.03 358.9,358.67 359.9,358.3 360.9,357.93 361.9,357.54 362.9,357.13 363.9,356.71 364.9,356.26 365.9,355.79 366.9,355.28 367.9,354.72 368.9,354.12 369.9,353.46 370.9,352.75 371.9,352 372.9,351.2 373.9,350.37 374.9,349.51 375.9,348.62 376.9,347.69 377.9,346.71 378.9,345.67 379.9,344.55 380.9,343.38 381.9,342.15 382.9,340.88 383.9,339.6 384.9,338.32 385.9,337.05 386.9,335.8 387.9,334.58 388.9,333.38 389.9,332.19 390.9,331.02 391.9,329.85 392.9,328.69 393.9,327.54 394.9,326.38 395.9,325.2 396.9,324.01 397.9,322.83 398.9,321.72 399.9,320.7 400.9,319.81 401.9,319.03 402.9,318.35 403.9,317.75 404.9,317.25 405.9,316.85 406.9,316.53 407.9,316.26 408.9,316.04 409.9,315.87 410.9,315.77 411.9,315.75 412.9,315.81 413.9,315.92 414.9,316.09 415.9,316.28 416.9,316.51 417.9,316.76 418.9,317.04 419.9,317.4 420.9,317.88 421.9,318.5 422.9,319.26 423.9,320.12 424.9,321.07 425.9,322.08 426.9,323.14 427.9,324.25 428.9,325.43 429.9,326.67 430.9,327.94 431.9,329.23 432.9,330.51 433.9,331.78 434.9,333.04 435.9,334.3 436.9,335.56 437.9,336.81 438.9,338.04 439.9,339.26 440.9,340.45 441.9,341.61 442.9,342.75 443.9,343.86 444.9,344.96 445.9,346.06 446.9,347.15 447.9,348.22 448.9,349.26 449.9,350.26 450.9,351.2 451.9,352.09 452.9,352.92 453.9,353.69 454.9,354.42 455.9,355.12 456.9,355.79 457.9,356.42 458.9,357.02 459.9,357.58 460.9,358.11 461.9,358.59 462.9,359.04 463.9,359.45 464.9,359.84 465.9,360.21 466.9,360.57 467.9,360.9 468.9,361.21 469.9,361.49 470.9,361.74 471.9,361.95 472.9,362.12 473.9,362.26 474.9,362.39 475.9,362.5 L475.9,363 Z" fill="#00BA38" fill-opacity="0.3" stroke="#00BA38" stroke-width="0.5" stroke-opacity="0.5" stroke-linejoin="round"/>
<path d="M324.9,363 L324.9,362.95 325.9,362.95 326.9,362.95 327.9,362.95 328.9,362.95 329.9,362.95 330.9,362.95 331.9,362.94 332.9,362.92 333.9,362.9 334.9,362.88 335.9,362.85 336.9,362.83 337.9,362.8 338.9,362.76 339.9,362.73 340.9,362.69 341.9,362.65 342.9,362.61 343.9,362.56 344.9,362.52 345.9,362.46 346.9,362.39 347.9,362.29 348.9,362.13 349.9,361.9 350.9,361.62 351.9,361.3 352.9,360.94 353.9,360.56 354.9,360.17 355.9,359.79 356.9,359.41 357.9,359.05 358.9,358.69 359.9,358.33 360.9,357.96 361.9,357.58 362.9,357.18 363.9,356.76 364.9,356.32 365.9,355.84 366.9,355.33 367.9,354.76 368.9,354.14 369.9,353.46 370.9,352.73 371.9,351.94 372.9,351.11 373.9,350.24 374.9,349.34 375.9,348.42 376.9,347.47 377.9,346.47 378.9,345.42 379.9,344.32 380.9,343.17 381.9,341.98 382.9,340.77 383.9,339.55 384.9,338.34 385.9,337.14 386.9,335.97 387.9,334.82 388.9,333.67 389.9,332.53 390.9,331.37 391.9,330.21 392.9,329.04 393.9,327.86 394.9,326.66 395.9,325.43 396.9,324.19 397.9,322.96 398.9,321.8 399.9,320.75 400.9,319.83 401.9,319.04 402.9,318.34 403.9,317.75 404.9,317.25 405.9,316.86 406.9,316.54 407.9,316.26 408.9,316.02 409.9,315.82 410.9,315.69 411.9,315.63 412.9,315.64 413.9,315.71 414.9,315.85 415.9,316.04 416.9,316.29 417.9,316.58 418.9,316.95 419.9,317.42 420.9,318.03 421.9,318.79 422.9,319.67 423.9,320.66 424.9,321.7 425.9,322.77 426.9,323.84 427.9,324.92 428.9,326.02 429.9,327.15 430.9,328.28 431.9,329.41 432.9,330.51 433.9,331.6 434.9,332.69 435.9,333.79 436.9,334.91 437.9,336.06 438.9,337.22 439.9,338.4 440.9,339.59 441.9,340.78 442.9,341.97 443.9,343.16 444.9,344.36 445.9,345.56 446.9,346.75 447.9,347.9 448.9,349.02 449.9,350.07 450.9,351.07 451.9,351.98 452.9,352.83 453.9,353.61 454.9,354.34 455.9,355.03 456.9,355.7 457.9,356.33 458.9,356.93 459.9,357.5 460.9,358.03 461.9,358.52 462.9,358.98 463.9,359.4 464.9,359.8 465.9,360.19 466.9,360.56 467.9,360.9 468.9,361.22 469.9,361.5 470.9,361.75 471.9,361.96 472.9,362.13 473.9,362.27 474.9,362.4 475.9,362.51 476.9,362.62 477.9,362.71 478.9,362.8 479.9,362.87 480.9,362.92 481.9,362.95 482.9,362.95 483.9,362.95 484.9,362.95 485.9,362.95 486.9,362.95 487.9,362.95 488.9,362.95 489.9,362.95 490.9,362.95 491.9,362.95 492.9,362.95 L492.9,363 Z" fill="#619CFF" fill-opacity="0.3" stroke="#619CFF" stroke-width="0.5" stroke-opacity="0.5" stroke-linejoin="round"/>
<text x="409.15" y="309.4" font-size="7" fill="#222" stroke="#222" stroke-width="0.25" text-anchor="middle">phi2[1]</text>
<path d="M315.2 363.3H317.1M315.2 348.63H317.1M315.2 333.96H317.1M315.2 319.29H317.1M342.4 364.6V366.5M380.05 364.6V366.5M417.7 364.6V366.5M455.35 364.6V366.5M493 364.6V366.5" stroke="#444" stroke-width="0.55" fill="none"/>
<text x="313" y="365.8" font-size="7" fill="#5c5c5c" stroke="#5c5c5c" stroke-width="0.2" text-anchor="end">0</text><text x="313" y="351.13" font-size="7" fill="#5c5c5c" stroke="#5c5c5c" stroke-width="0.2" text-anchor="end">2</text><text x="313" y="336.46" font-size="7" fill="#5c5c5c" stroke="#5c5c5c" stroke-width="0.2" text-anchor="end">4</text><text x="313" y="321.79" font-size="7" fill="#5c5c5c" stroke="#5c5c5c" stroke-width="0.2" text-anchor="end">6</text><text x="342.1" y="374.8" font-size="7" fill="#5c5c5c" stroke="#5c5c5c" stroke-width="0.2" text-anchor="middle">0.3</text><text x="379.75" y="374.8" font-size="7" fill="#5c5c5c" stroke="#5c5c5c" stroke-width="0.2" text-anchor="middle">0.4</text><text x="417.4" y="374.8" font-size="7" fill="#5c5c5c" stroke="#5c5c5c" stroke-width="0.2" text-anchor="middle">0.5</text><text x="455.05" y="374.8" font-size="7" fill="#5c5c5c" stroke="#5c5c5c" stroke-width="0.2" text-anchor="middle">0.6</text><text x="492.7" y="374.8" font-size="7" fill="#5c5c5c" stroke="#5c5c5c" stroke-width="0.2" text-anchor="middle">0.7</text>
<rect x="317.1" y="380" width="184.1" height="13.1" fill="#D9D9D9"/>
<rect x="317.1" y="393.1" width="184.1" height="51.8" fill="#ECECEC"/>
<path d="M317.1 394.1H501.2M317.1 400.7H501.2M317.1 407.3H501.2M317.1 413.9H501.2M317.1 420.5H501.2M317.1 427.1H501.2M317.1 433.7H501.2M317.1 440.3H501.2" stroke="#fff" stroke-width="0.9" stroke-opacity="0.32" fill="none"/>
<path d="M344.12 393.1V444.9M380.77 393.1V444.9M417.43 393.1V444.9M454.07 393.1V444.9M490.72 393.1V444.9M317.1 437H501.2M317.1 423.8H501.2M317.1 410.6H501.2M317.1 397.4H501.2" stroke="#fff" stroke-width="0.36" fill="none"/>
<path d="M325.8 393.1V444.9M362.45 393.1V444.9M399.1 393.1V444.9M435.75 393.1V444.9M472.4 393.1V444.9M317.1 443.6H501.2M317.1 430.4H501.2M317.1 417.2H501.2M317.1 404H501.2" stroke="#fff" stroke-width="0.5" fill="none"/>
<path d="M342.9,443.3 L342.9,443.24 343.9,443.23 344.9,443.22 345.9,443.21 346.9,443.2 347.9,443.17 348.9,443.13 349.9,443.08 350.9,443 351.9,442.91 352.9,442.8 353.9,442.68 354.9,442.54 355.9,442.39 356.9,442.22 357.9,442.02 358.9,441.75 359.9,441.43 360.9,441.04 361.9,440.6 362.9,440.12 363.9,439.61 364.9,439.07 365.9,438.51 366.9,437.94 367.9,437.35 368.9,436.73 369.9,436.07 370.9,435.38 371.9,434.64 372.9,433.86 373.9,433.05 374.9,432.2 375.9,431.31 376.9,430.38 377.9,429.38 378.9,428.29 379.9,427.13 380.9,425.88 381.9,424.59 382.9,423.26 383.9,421.92 384.9,420.59 385.9,419.27 386.9,417.98 387.9,416.71 388.9,415.45 389.9,414.18 390.9,412.9 391.9,411.62 392.9,410.33 393.9,409.05 394.9,407.78 395.9,406.5 396.9,405.23 397.9,403.98 398.9,402.78 399.9,401.67 400.9,400.67 401.9,399.78 402.9,398.98 403.9,398.28 404.9,397.68 405.9,397.16 406.9,396.71 407.9,396.29 408.9,395.92 409.9,395.6 410.9,395.4 411.9,395.35 412.9,395.48 413.9,395.79 414.9,396.23 415.9,396.76 416.9,397.33 417.9,397.91 418.9,398.52 419.9,399.2 420.9,400.01 421.9,400.98 422.9,402.08 423.9,403.28 424.9,404.52 425.9,405.76 426.9,406.99 427.9,408.22 428.9,409.45 429.9,410.72 430.9,412.02 431.9,413.33 432.9,414.65 433.9,415.99 434.9,417.34 435.9,418.72 436.9,420.11 437.9,421.49 438.9,422.86 439.9,424.18 440.9,425.46 441.9,426.68 442.9,427.83 443.9,428.92 444.9,429.97 445.9,430.99 446.9,431.98 447.9,432.94 448.9,433.85 449.9,434.71 450.9,435.52 451.9,436.26 452.9,436.94 453.9,437.56 454.9,438.16 455.9,438.73 456.9,439.27 457.9,439.78 458.9,440.25 459.9,440.69 460.9,441.07 461.9,441.4 462.9,441.68 463.9,441.92 464.9,442.13 465.9,442.33 466.9,442.52 467.9,442.68 468.9,442.83 469.9,442.96 470.9,443.06 471.9,443.13 472.9,443.18 473.9,443.2 474.9,443.22 475.9,443.23 476.9,443.23 477.9,443.24 478.9,443.25 479.9,443.25 480.9,443.25 481.9,443.25 482.9,443.25 483.9,443.25 L483.9,443.3 Z" fill="#F8766D" fill-opacity="0.3" stroke="#F8766D" stroke-width="0.5" stroke-opacity="0.5" stroke-linejoin="round"/>
<path d="M330.9,443.3 L330.9,443.25 331.9,443.25 332.9,443.25 333.9,443.25 334.9,443.25 335.9,443.25 336.9,443.25 337.9,443.25 338.9,443.25 339.9,443.25 340.9,443.25 341.9,443.24 342.9,443.24 343.9,443.23 344.9,443.22 345.9,443.21 346.9,443.2 347.9,443.17 348.9,443.13 349.9,443.08 350.9,443 351.9,442.91 352.9,442.8 353.9,442.68 354.9,442.55 355.9,442.41 356.9,442.24 357.9,442.03 358.9,441.77 359.9,441.45 360.9,441.06 361.9,440.61 362.9,440.12 363.9,439.6 364.9,439.05 365.9,438.48 366.9,437.9 367.9,437.3 368.9,436.67 369.9,436.01 370.9,435.31 371.9,434.58 372.9,433.81 373.9,433.02 374.9,432.18 375.9,431.32 376.9,430.4 377.9,429.41 378.9,428.32 379.9,427.13 380.9,425.84 381.9,424.47 382.9,423.03 383.9,421.55 384.9,420.06 385.9,418.59 386.9,417.17 387.9,415.8 388.9,414.49 389.9,413.22 390.9,411.98 391.9,410.76 392.9,409.56 393.9,408.38 394.9,407.2 395.9,406.03 396.9,404.86 397.9,403.73 398.9,402.66 399.9,401.68 400.9,400.82 401.9,400.07 402.9,399.41 403.9,398.83 404.9,398.34 405.9,397.92 406.9,397.55 407.9,397.21 408.9,396.9 409.9,396.63 410.9,396.43 411.9,396.31 412.9,396.3 413.9,396.39 414.9,396.57 415.9,396.82 416.9,397.15 417.9,397.54 418.9,398.01 419.9,398.61 420.9,399.4 421.9,400.39 422.9,401.55 423.9,402.83 424.9,404.17 425.9,405.53 426.9,406.87 427.9,408.2 428.9,409.54 429.9,410.89 430.9,412.24 431.9,413.59 432.9,414.93 433.9,416.25 434.9,417.58 435.9,418.92 436.9,420.26 437.9,421.58 438.9,422.89 439.9,424.17 440.9,425.4 441.9,426.58 442.9,427.7 443.9,428.78 444.9,429.83 445.9,430.86 446.9,431.86 447.9,432.84 448.9,433.78 449.9,434.67 450.9,435.5 451.9,436.27 452.9,436.97 453.9,437.61 454.9,438.22 455.9,438.79 456.9,439.33 457.9,439.84 458.9,440.31 459.9,440.73 460.9,441.1 461.9,441.43 462.9,441.7 463.9,441.93 464.9,442.14 465.9,442.33 466.9,442.51 467.9,442.68 468.9,442.82 469.9,442.95 470.9,443.05 471.9,443.13 472.9,443.17 473.9,443.2 474.9,443.21 475.9,443.22 476.9,443.23 477.9,443.24 478.9,443.25 479.9,443.25 L479.9,443.3 Z" fill="#00BA38" fill-opacity="0.3" stroke="#00BA38" stroke-width="0.5" stroke-opacity="0.5" stroke-linejoin="round"/>
<path d="M324.9,443.3 L324.9,443.25 325.9,443.25 326.9,443.25 327.9,443.25 328.9,443.25 329.9,443.25 330.9,443.25 331.9,443.25 332.9,443.25 333.9,443.25 334.9,443.25 335.9,443.25 336.9,443.25 337.9,443.25 338.9,443.25 339.9,443.25 340.9,443.25 341.9,443.24 342.9,443.24 343.9,443.23 344.9,443.22 345.9,443.21 346.9,443.2 347.9,443.17 348.9,443.13 349.9,443.08 350.9,443 351.9,442.91 352.9,442.8 353.9,442.68 354.9,442.54 355.9,442.39 356.9,442.22 357.9,442.01 358.9,441.74 359.9,441.41 360.9,441.02 361.9,440.58 362.9,440.1 363.9,439.6 364.9,439.07 365.9,438.53 366.9,437.98 367.9,437.41 368.9,436.81 369.9,436.17 370.9,435.48 371.9,434.75 372.9,433.96 373.9,433.13 374.9,432.26 375.9,431.35 376.9,430.39 377.9,429.37 378.9,428.27 379.9,427.09 380.9,425.85 381.9,424.55 382.9,423.22 383.9,421.87 384.9,420.5 385.9,419.15 386.9,417.8 387.9,416.45 388.9,415.1 389.9,413.74 390.9,412.37 391.9,411.03 392.9,409.72 393.9,408.45 394.9,407.25 395.9,406.1 396.9,404.99 397.9,403.95 398.9,402.98 399.9,402.11 400.9,401.32 401.9,400.6 402.9,399.92 403.9,399.27 404.9,398.66 405.9,398.09 406.9,397.56 407.9,397.06 408.9,396.61 409.9,396.25 410.9,396.01 411.9,395.92 412.9,395.99 413.9,396.2 414.9,396.54 415.9,396.97 416.9,397.45 417.9,397.96 418.9,398.51 419.9,399.12 420.9,399.86 421.9,400.73 422.9,401.73 423.9,402.81 424.9,403.95 425.9,405.09 426.9,406.24 427.9,407.39 428.9,408.56 429.9,409.78 430.9,411.03 431.9,412.3 432.9,413.59 433.9,414.89 434.9,416.23 435.9,417.61 436.9,419.02 437.9,420.45 438.9,421.89 439.9,423.31 440.9,424.69 441.9,426.02 442.9,427.28 443.9,428.49 444.9,429.65 445.9,430.77 446.9,431.85 447.9,432.88 448.9,433.85 449.9,434.76 450.9,435.59 451.9,436.35 452.9,437.03 453.9,437.65 454.9,438.23 455.9,438.78 456.9,439.3 457.9,439.79 458.9,440.25 459.9,440.67 460.9,441.05 461.9,441.38 462.9,441.66 463.9,441.9 464.9,442.12 465.9,442.32 466.9,442.51 467.9,442.68 468.9,442.83 469.9,442.96 470.9,443.06 471.9,443.13 472.9,443.18 473.9,443.2 474.9,443.22 475.9,443.23 476.9,443.23 477.9,443.24 478.9,443.25 479.9,443.25 480.9,443.25 481.9,443.25 482.9,443.25 483.9,443.25 484.9,443.25 485.9,443.25 486.9,443.25 487.9,443.25 488.9,443.25 489.9,443.25 490.9,443.25 491.9,443.25 492.9,443.25 L492.9,443.3 Z" fill="#619CFF" fill-opacity="0.3" stroke="#619CFF" stroke-width="0.5" stroke-opacity="0.5" stroke-linejoin="round"/>
<text x="409.15" y="389.75" font-size="7" fill="#222" stroke="#222" stroke-width="0.25" text-anchor="middle">phi2[2]</text>
<path d="M315.2 443.6H317.1M315.2 430.4H317.1M315.2 417.2H317.1M315.2 404H317.1M325.8 444.9V446.8M362.45 444.9V446.8M399.1 444.9V446.8M435.75 444.9V446.8M472.4 444.9V446.8" stroke="#444" stroke-width="0.55" fill="none"/>
<text x="313" y="446.1" font-size="7" fill="#5c5c5c" stroke="#5c5c5c" stroke-width="0.2" text-anchor="end">0</text><text x="313" y="432.9" font-size="7" fill="#5c5c5c" stroke="#5c5c5c" stroke-width="0.2" text-anchor="end">2</text><text x="313" y="419.7" font-size="7" fill="#5c5c5c" stroke="#5c5c5c" stroke-width="0.2" text-anchor="end">4</text><text x="313" y="406.5" font-size="7" fill="#5c5c5c" stroke="#5c5c5c" stroke-width="0.2" text-anchor="end">6</text><text x="325.5" y="455.6" font-size="7" fill="#5c5c5c" stroke="#5c5c5c" stroke-width="0.2" text-anchor="middle">-0.4</text><text x="362.15" y="455.6" font-size="7" fill="#5c5c5c" stroke="#5c5c5c" stroke-width="0.2" text-anchor="middle">-0.3</text><text x="398.8" y="455.6" font-size="7" fill="#5c5c5c" stroke="#5c5c5c" stroke-width="0.2" text-anchor="middle">-0.2</text><text x="435.45" y="455.6" font-size="7" fill="#5c5c5c" stroke="#5c5c5c" stroke-width="0.2" text-anchor="middle">-0.1</text><text x="472.1" y="455.6" font-size="7" fill="#5c5c5c" stroke="#5c5c5c" stroke-width="0.2" text-anchor="middle">0.0</text>
<rect x="317.1" y="460" width="184.1" height="13.1" fill="#D9D9D9"/>
<rect x="317.1" y="473.1" width="184.1" height="52.5" fill="#ECECEC"/>
<path d="M317.1 476.07H501.2M317.1 484.82H501.2M317.1 493.57H501.2M317.1 502.32H501.2M317.1 511.08H501.2M317.1 519.83H501.2" stroke="#fff" stroke-width="0.9" stroke-opacity="0.32" fill="none"/>
<path d="M329.33 473.1V525.6M360.88 473.1V525.6M392.43 473.1V525.6M423.98 473.1V525.6M455.52 473.1V525.6M487.08 473.1V525.6M317.1 515.45H501.2M317.1 497.95H501.2M317.1 480.45H501.2" stroke="#fff" stroke-width="0.36" fill="none"/>
<path d="M345.1 473.1V525.6M376.65 473.1V525.6M408.2 473.1V525.6M439.75 473.1V525.6M471.3 473.1V525.6M317.1 524.2H501.2M317.1 506.7H501.2M317.1 489.2H501.2" stroke="#fff" stroke-width="0.5" fill="none"/>
<path d="M336.9,523.5 L336.9,523.2 337.9,523.14 338.9,523.06 339.9,522.96 340.9,522.83 341.9,522.68 342.9,522.52 343.9,522.33 344.9,522.12 345.9,521.89 346.9,521.62 347.9,521.3 348.9,520.9 349.9,520.41 350.9,519.83 351.9,519.18 352.9,518.46 353.9,517.7 354.9,516.9 355.9,516.07 356.9,515.21 357.9,514.31 358.9,513.34 359.9,512.29 360.9,511.17 361.9,509.99 362.9,508.77 363.9,507.51 364.9,506.22 365.9,504.92 366.9,503.61 367.9,502.26 368.9,500.86 369.9,499.4 370.9,497.89 371.9,496.36 372.9,494.81 373.9,493.27 374.9,491.77 375.9,490.3 376.9,488.89 377.9,487.5 378.9,486.14 379.9,484.81 380.9,483.58 381.9,482.51 382.9,481.64 383.9,480.96 384.9,480.44 385.9,480 386.9,479.62 387.9,479.3 388.9,479.01 389.9,478.76 390.9,478.53 391.9,478.32 392.9,478.11 393.9,477.89 394.9,477.68 395.9,477.48 396.9,477.31 397.9,477.19 398.9,477.14 399.9,477.18 400.9,477.32 401.9,477.53 402.9,477.78 403.9,478.08 404.9,478.42 405.9,478.82 406.9,479.28 407.9,479.83 408.9,480.45 409.9,481.18 410.9,482 411.9,482.91 412.9,483.88 413.9,484.89 414.9,485.92 415.9,486.96 416.9,487.99 417.9,489.03 418.9,490.09 419.9,491.18 420.9,492.28 421.9,493.39 422.9,494.51 423.9,495.62 424.9,496.73 425.9,497.85 426.9,498.98 427.9,500.12 428.9,501.26 429.9,502.39 430.9,503.5 431.9,504.58 432.9,505.61 433.9,506.6 434.9,507.55 435.9,508.47 436.9,509.35 437.9,510.18 438.9,510.93 439.9,511.59 440.9,512.17 441.9,512.66 442.9,513.09 443.9,513.49 444.9,513.89 445.9,514.32 446.9,514.78 447.9,515.28 448.9,515.81 449.9,516.37 450.9,516.93 451.9,517.47 452.9,517.99 453.9,518.47 454.9,518.91 455.9,519.3 456.9,519.66 457.9,519.99 458.9,520.28 459.9,520.56 460.9,520.82 461.9,521.06 462.9,521.29 463.9,521.51 464.9,521.73 465.9,521.94 466.9,522.15 467.9,522.36 468.9,522.56 469.9,522.75 470.9,522.91 471.9,523.05 472.9,523.15 473.9,523.22 474.9,523.27 475.9,523.32 476.9,523.36 477.9,523.4 478.9,523.43 479.9,523.45 480.9,523.45 481.9,523.45 482.9,523.45 483.9,523.45 484.9,523.45 485.9,523.45 486.9,523.45 487.9,523.45 L487.9,523.5 Z" fill="#F8766D" fill-opacity="0.3" stroke="#F8766D" stroke-width="0.5" stroke-opacity="0.5" stroke-linejoin="round"/>
<path d="M330.9,523.5 L330.9,523.42 331.9,523.39 332.9,523.36 333.9,523.33 334.9,523.29 335.9,523.25 336.9,523.2 337.9,523.14 338.9,523.06 339.9,522.96 340.9,522.83 341.9,522.68 342.9,522.5 343.9,522.31 344.9,522.09 345.9,521.85 346.9,521.58 347.9,521.26 348.9,520.86 349.9,520.37 350.9,519.81 351.9,519.18 352.9,518.49 353.9,517.76 354.9,516.98 355.9,516.18 356.9,515.34 357.9,514.44 358.9,513.46 359.9,512.39 360.9,511.24 361.9,510.02 362.9,508.75 363.9,507.44 364.9,506.11 365.9,504.78 366.9,503.44 367.9,502.09 368.9,500.7 369.9,499.26 370.9,497.79 371.9,496.29 372.9,494.78 373.9,493.28 374.9,491.8 375.9,490.36 376.9,488.97 377.9,487.61 378.9,486.27 379.9,484.97 380.9,483.77 381.9,482.73 382.9,481.9 383.9,481.25 384.9,480.74 385.9,480.29 386.9,479.88 387.9,479.48 388.9,479.1 389.9,478.72 390.9,478.34 391.9,477.97 392.9,477.61 393.9,477.28 394.9,476.98 395.9,476.74 396.9,476.59 397.9,476.55 398.9,476.63 399.9,476.84 400.9,477.17 401.9,477.56 402.9,477.97 403.9,478.37 404.9,478.75 405.9,479.11 406.9,479.46 407.9,479.81 408.9,480.2 409.9,480.65 410.9,481.18 411.9,481.83 412.9,482.58 413.9,483.44 414.9,484.4 415.9,485.44 416.9,486.56 417.9,487.74 418.9,488.98 419.9,490.26 420.9,491.57 421.9,492.88 422.9,494.16 423.9,495.4 424.9,496.6 425.9,497.76 426.9,498.91 427.9,500.05 428.9,501.17 429.9,502.29 430.9,503.38 431.9,504.45 432.9,505.49 433.9,506.5 434.9,507.48 435.9,508.45 436.9,509.39 437.9,510.28 438.9,511.12 439.9,511.89 440.9,512.58 441.9,513.19 442.9,513.74 443.9,514.25 444.9,514.72 445.9,515.16 446.9,515.6 447.9,516.03 448.9,516.46 449.9,516.89 450.9,517.33 451.9,517.77 452.9,518.19 453.9,518.6 454.9,518.99 455.9,519.35 456.9,519.68 457.9,519.99 458.9,520.27 459.9,520.53 460.9,520.78 461.9,521.02 462.9,521.25 463.9,521.48 464.9,521.69 465.9,521.91 466.9,522.13 467.9,522.35 468.9,522.56 469.9,522.75 470.9,522.92 471.9,523.05 472.9,523.15 473.9,523.22 474.9,523.28 475.9,523.32 476.9,523.36 477.9,523.4 478.9,523.43 479.9,523.45 480.9,523.45 481.9,523.45 482.9,523.45 483.9,523.45 484.9,523.45 485.9,523.45 486.9,523.45 487.9,523.45 488.9,523.45 489.9,523.45 490.9,523.45 L490.9,523.5 Z" fill="#00BA38" fill-opacity="0.3" stroke="#00BA38" stroke-width="0.5" stroke-opacity="0.5" stroke-linejoin="round"/>
<path d="M324.9,523.5 L324.9,523.45 325.9,523.45 326.9,523.45 327.9,523.45 328.9,523.45 329.9,523.44 330.9,523.42 331.9,523.39 332.9,523.36 333.9,523.32 334.9,523.29 335.9,523.25 336.9,523.2 337.9,523.14 338.9,523.06 339.9,522.95 340.9,522.83 341.9,522.68 342.9,522.51 343.9,522.32 344.9,522.12 345.9,521.89 346.9,521.63 347.9,521.32 348.9,520.93 349.9,520.45 350.9,519.88 351.9,519.23 352.9,518.51 353.9,517.74 354.9,516.92 355.9,516.06 356.9,515.17 357.9,514.23 358.9,513.23 359.9,512.16 360.9,511.03 361.9,509.85 362.9,508.63 363.9,507.38 364.9,506.12 365.9,504.84 366.9,503.54 367.9,502.21 368.9,500.82 369.9,499.36 370.9,497.86 371.9,496.34 372.9,494.82 373.9,493.32 374.9,491.87 375.9,490.47 376.9,489.13 377.9,487.8 378.9,486.46 379.9,485.09 380.9,483.74 381.9,482.46 382.9,481.27 383.9,480.2 384.9,479.23 385.9,478.35 386.9,477.56 387.9,476.91 388.9,476.42 389.9,476.09 390.9,475.93 391.9,475.9 392.9,475.97 393.9,476.11 394.9,476.29 395.9,476.49 396.9,476.71 397.9,476.93 398.9,477.18 399.9,477.47 400.9,477.78 401.9,478.1 402.9,478.41 403.9,478.71 404.9,479.03 405.9,479.39 406.9,479.81 407.9,480.3 408.9,480.89 409.9,481.58 410.9,482.37 411.9,483.24 412.9,484.17 413.9,485.12 414.9,486.07 415.9,487 416.9,487.92 417.9,488.84 418.9,489.78 419.9,490.75 420.9,491.77 421.9,492.83 422.9,493.94 423.9,495.08 424.9,496.26 425.9,497.47 426.9,498.72 427.9,499.98 428.9,501.23 429.9,502.47 430.9,503.66 431.9,504.78 432.9,505.84 433.9,506.83 434.9,507.78 435.9,508.68 436.9,509.55 437.9,510.38 438.9,511.16 439.9,511.88 440.9,512.55 441.9,513.15 442.9,513.7 443.9,514.21 444.9,514.7 445.9,515.15 446.9,515.59 447.9,516.02 448.9,516.45 449.9,516.87 450.9,517.29 451.9,517.71 452.9,518.12 453.9,518.52 454.9,518.91 455.9,519.28 456.9,519.62 457.9,519.94 458.9,520.25 459.9,520.54 460.9,520.81 461.9,521.06 462.9,521.3 463.9,521.53 464.9,521.75 465.9,521.96 466.9,522.16 467.9,522.37 468.9,522.57 469.9,522.75 470.9,522.92 471.9,523.05 472.9,523.15 473.9,523.22 474.9,523.27 475.9,523.32 476.9,523.36 477.9,523.4 478.9,523.43 479.9,523.45 480.9,523.45 481.9,523.45 482.9,523.45 483.9,523.45 484.9,523.45 485.9,523.45 486.9,523.45 487.9,523.45 488.9,523.45 489.9,523.45 490.9,523.45 491.9,523.45 492.9,523.45 L492.9,523.5 Z" fill="#619CFF" fill-opacity="0.3" stroke="#619CFF" stroke-width="0.5" stroke-opacity="0.5" stroke-linejoin="round"/>
<text x="409.15" y="469.75" font-size="7" fill="#222" stroke="#222" stroke-width="0.25" text-anchor="middle">phi2[3]</text>
<path d="M315.2 524.2H317.1M315.2 506.7H317.1M315.2 489.2H317.1M345.1 525.6V527.5M376.65 525.6V527.5M408.2 525.6V527.5M439.75 525.6V527.5M471.3 525.6V527.5" stroke="#444" stroke-width="0.55" fill="none"/>
<text x="313" y="526.7" font-size="7" fill="#5c5c5c" stroke="#5c5c5c" stroke-width="0.2" text-anchor="end">0</text><text x="313" y="509.2" font-size="7" fill="#5c5c5c" stroke="#5c5c5c" stroke-width="0.2" text-anchor="end">2</text><text x="313" y="491.7" font-size="7" fill="#5c5c5c" stroke="#5c5c5c" stroke-width="0.2" text-anchor="end">4</text><text x="344.8" y="536.6" font-size="7" fill="#5c5c5c" stroke="#5c5c5c" stroke-width="0.2" text-anchor="middle">0.2</text><text x="376.35" y="536.6" font-size="7" fill="#5c5c5c" stroke="#5c5c5c" stroke-width="0.2" text-anchor="middle">0.3</text><text x="407.9" y="536.6" font-size="7" fill="#5c5c5c" stroke="#5c5c5c" stroke-width="0.2" text-anchor="middle">0.4</text><text x="439.45" y="536.6" font-size="7" fill="#5c5c5c" stroke="#5c5c5c" stroke-width="0.2" text-anchor="middle">0.5</text><text x="471" y="536.6" font-size="7" fill="#5c5c5c" stroke="#5c5c5c" stroke-width="0.2" text-anchor="middle">0.6</text>
<text transform="translate(306 420.4) rotate(-90)" font-size="8.2" fill="#111" stroke="#111" stroke-width="0.25" text-anchor="middle">density</text>
<text x="408.7" y="546" font-size="8.2" fill="#111" stroke="#111" stroke-width="0.25" text-anchor="middle">value</text>
<text x="513.8" y="402.7" font-size="8" fill="#111" stroke="#111" stroke-width="0.25">Chain</text>
<rect x="514.1" y="406.8" width="12.5" height="12.9" fill="#F2F2F2"/>
<rect x="514.5" y="407.2" width="11.7" height="12.1" fill="#F8766D" fill-opacity="0.3" stroke="#F8766D" stroke-width="0.55"/>
<text x="532.5" y="416.65" font-size="7" fill="#1a1a1a" stroke="#1a1a1a" stroke-width="0.2" text-anchor="middle">1</text>
<rect x="514.1" y="419.7" width="12.5" height="12.5" fill="#F2F2F2"/>
<rect x="514.5" y="420.1" width="11.7" height="11.7" fill="#00BA38" fill-opacity="0.3" stroke="#00BA38" stroke-width="0.55"/>
<text x="532.5" y="429.35" font-size="7" fill="#1a1a1a" stroke="#1a1a1a" stroke-width="0.2" text-anchor="middle">2</text>
<rect x="514.1" y="432.2" width="12.5" height="12.3" fill="#F2F2F2"/>
<rect x="514.5" y="432.6" width="11.7" height="11.5" fill="#619CFF" fill-opacity="0.3" stroke="#619CFF" stroke-width="0.55"/>
<text x="532.5" y="441.75" font-size="7" fill="#1a1a1a" stroke="#1a1a1a" stroke-width="0.2" text-anchor="middle">3</text>
</svg>
</body></html>
